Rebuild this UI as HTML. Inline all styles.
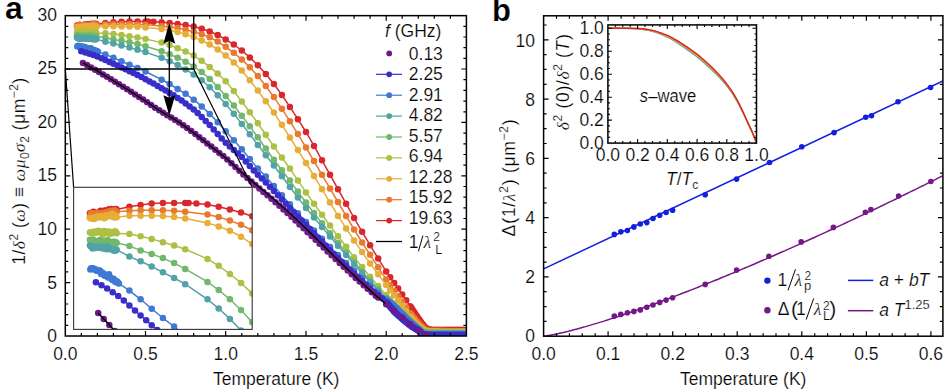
<!DOCTYPE html>
<html><head><meta charset="utf-8"><style>
html,body{margin:0;padding:0;background:#fff}
body{width:946px;height:389px;overflow:hidden}
svg{display:block}
text{font-family:"Liberation Sans",sans-serif;fill:#000;stroke:#fff;stroke-width:0.2px}
</style></head><body>
<svg width="946" height="389" viewBox="0 0 946 389">
<defs>
<clipPath id="ca"><rect x="65.3" y="15.65" width="401.09999999999997" height="320.35"/></clipPath>
<clipPath id="ci"><rect x="73.6" y="187.3" width="178.6" height="142.09999999999997"/></clipPath>
</defs>
<g clip-path="url(#ca)"><path d="M77.0 25.4 L77.7 25.5 L78.3 25.8 L78.9 25.2 L79.6 24.8 L80.2 25.1 L80.9 25.7 L81.5 25.9 L82.1 25.2 L82.8 25.6 L83.4 25.3 L84.1 25.2 L84.7 24.4 L85.4 25.3 L86.0 25.6 L86.6 25.1 L87.3 24.4 L87.9 24.4 L88.6 24.6 L89.2 24.9 L89.8 25.0 L90.5 24.0 L91.1 23.9 L91.8 24.7 L92.4 23.8 L93.1 24.4 L93.7 24.0 L94.3 24.3 L95.0 24.0 L95.6 23.7 L96.3 24.0 L105.4 23.0 L113.4 22.3 L121.5 21.8 L129.5 21.5 L137.5 21.5 L145.5 21.5 L147.9 21.5 L153.5 21.7 L161.6 22.2 L169.6 22.9 L177.6 24.0 L185.6 25.1 L193.7 26.5 L201.7 28.7 L209.7 31.5 L217.7 35.0 L225.7 39.4 L233.8 44.5 L241.8 50.5 L249.8 57.4 L257.8 65.3 L265.8 74.1 L273.9 84.0 L281.9 95.0 L289.9 106.9 L297.9 119.2 L306.0 132.0 L314.0 145.9 L322.0 160.3 L330.0 174.7 L338.0 189.2 L346.1 203.7 L354.1 218.0 L362.1 231.8 L370.1 245.2 L378.2 258.6 L386.2 271.4 L390.2 277.3 L394.2 283.0 L398.2 288.6 L402.2 294.4 L406.2 300.3 L410.2 306.3 L411.0 307.5 L411.9 308.8 L412.7 310.0 L413.5 311.2 L414.3 312.5 L415.1 313.7 L415.9 314.9 L416.7 316.1 L417.5 317.3 L418.3 318.4 L419.1 319.5 L419.9 320.6 L420.7 321.8 L421.5 323.0 L422.3 324.1 L423.1 325.1 L423.9 326.1 L424.7 327.0 L425.5 327.7 L426.3 328.3 L427.1 328.8 L427.9 329.3 L428.7 329.7 L429.5 329.8 L430.3 329.8 L431.1 329.8 L431.9 329.9 L432.7 329.9 L433.5 329.9 L434.3 329.9 L435.1 329.9 L435.9 329.9 L436.7 329.9 L437.5 330.0 L438.3 330.0 L439.1 330.0 L439.9 330.0 L440.7 330.0 L441.5 330.0 L442.3 330.0 L443.1 330.0 L443.9 330.0 L444.7 330.0 L445.5 330.1 L446.3 330.1 L447.1 330.1 L447.9 330.1 L448.8 330.1 L449.6 330.1 L450.4 330.1 L451.2 330.1 L452.0 330.1 L452.8 330.1 L453.6 330.1 L454.4 330.1 L455.2 330.1 L456.0 330.1 L456.8 330.1 L457.6 330.1 L458.4 330.1 L459.2 330.1 L460.0 330.1 L460.8 330.1 L461.6 330.1 L462.4 330.1 L463.2 330.1 L464.0 330.1 L464.8 330.1 L465.6 330.1 L466.4 330.1" fill="none" stroke="#d8282b" stroke-width="1.5"/><g fill="#d8282b"><circle cx="77.0" cy="25.4" r="3.25"/><circle cx="77.7" cy="25.5" r="3.25"/><circle cx="78.3" cy="25.8" r="3.25"/><circle cx="78.9" cy="25.2" r="3.25"/><circle cx="79.6" cy="24.8" r="3.25"/><circle cx="80.2" cy="25.1" r="3.25"/><circle cx="80.9" cy="25.7" r="3.25"/><circle cx="81.5" cy="25.9" r="3.25"/><circle cx="82.1" cy="25.2" r="3.25"/><circle cx="82.8" cy="25.6" r="3.25"/><circle cx="83.4" cy="25.3" r="3.25"/><circle cx="84.1" cy="25.2" r="3.25"/><circle cx="84.7" cy="24.4" r="3.25"/><circle cx="85.4" cy="25.3" r="3.25"/><circle cx="86.0" cy="25.6" r="3.25"/><circle cx="86.6" cy="25.1" r="3.25"/><circle cx="87.3" cy="24.4" r="3.25"/><circle cx="87.9" cy="24.4" r="3.25"/><circle cx="88.6" cy="24.6" r="3.25"/><circle cx="89.2" cy="24.9" r="3.25"/><circle cx="89.8" cy="25.0" r="3.25"/><circle cx="90.5" cy="24.0" r="3.25"/><circle cx="91.1" cy="23.9" r="3.25"/><circle cx="91.8" cy="24.7" r="3.25"/><circle cx="92.4" cy="23.8" r="3.25"/><circle cx="93.1" cy="24.4" r="3.25"/><circle cx="93.7" cy="24.0" r="3.25"/><circle cx="94.3" cy="24.3" r="3.25"/><circle cx="95.0" cy="24.0" r="3.25"/><circle cx="95.6" cy="23.7" r="3.25"/><circle cx="96.3" cy="24.0" r="3.25"/><circle cx="105.4" cy="23.0" r="3.25"/><circle cx="113.4" cy="22.3" r="3.25"/><circle cx="121.5" cy="21.8" r="3.25"/><circle cx="129.5" cy="21.5" r="3.25"/><circle cx="137.5" cy="21.5" r="3.25"/><circle cx="145.5" cy="21.5" r="3.25"/><circle cx="147.9" cy="21.5" r="3.25"/><circle cx="153.5" cy="21.7" r="3.25"/><circle cx="161.6" cy="22.2" r="3.25"/><circle cx="169.6" cy="22.9" r="3.25"/><circle cx="177.6" cy="24.0" r="3.25"/><circle cx="185.6" cy="25.1" r="3.25"/><circle cx="193.7" cy="26.5" r="3.25"/><circle cx="201.7" cy="28.7" r="3.25"/><circle cx="209.7" cy="31.5" r="3.25"/><circle cx="217.7" cy="35.0" r="3.25"/><circle cx="225.7" cy="39.4" r="3.25"/><circle cx="233.8" cy="44.5" r="3.25"/><circle cx="241.8" cy="50.5" r="3.25"/><circle cx="249.8" cy="57.4" r="3.25"/><circle cx="257.8" cy="65.3" r="3.25"/><circle cx="265.8" cy="74.1" r="3.25"/><circle cx="273.9" cy="84.0" r="3.25"/><circle cx="281.9" cy="95.0" r="3.25"/><circle cx="289.9" cy="106.9" r="3.25"/><circle cx="297.9" cy="119.2" r="3.25"/><circle cx="306.0" cy="132.0" r="3.25"/><circle cx="314.0" cy="145.9" r="3.25"/><circle cx="322.0" cy="160.3" r="3.25"/><circle cx="330.0" cy="174.7" r="3.25"/><circle cx="338.0" cy="189.2" r="3.25"/><circle cx="346.1" cy="203.7" r="3.25"/><circle cx="354.1" cy="218.0" r="3.25"/><circle cx="362.1" cy="231.8" r="3.25"/><circle cx="370.1" cy="245.2" r="3.25"/><circle cx="378.2" cy="258.6" r="3.25"/><circle cx="386.2" cy="271.4" r="3.25"/><circle cx="390.2" cy="277.3" r="3.25"/><circle cx="394.2" cy="283.0" r="3.25"/><circle cx="398.2" cy="288.6" r="3.25"/><circle cx="402.2" cy="294.4" r="3.25"/><circle cx="406.2" cy="300.3" r="3.25"/><circle cx="410.2" cy="306.3" r="3.25"/><circle cx="411.0" cy="307.5" r="3.25"/><circle cx="411.9" cy="308.8" r="3.25"/><circle cx="412.7" cy="310.0" r="3.25"/><circle cx="413.5" cy="311.2" r="3.25"/><circle cx="414.3" cy="312.5" r="3.25"/><circle cx="415.1" cy="313.7" r="3.25"/><circle cx="415.9" cy="314.9" r="3.25"/><circle cx="416.7" cy="316.1" r="3.25"/><circle cx="417.5" cy="317.3" r="3.25"/><circle cx="418.3" cy="318.4" r="3.25"/><circle cx="419.1" cy="319.5" r="3.25"/><circle cx="419.9" cy="320.6" r="3.25"/><circle cx="420.7" cy="321.8" r="3.25"/><circle cx="421.5" cy="323.0" r="3.25"/><circle cx="422.3" cy="324.1" r="3.25"/><circle cx="423.1" cy="325.1" r="3.25"/><circle cx="423.9" cy="326.1" r="3.25"/><circle cx="424.7" cy="327.0" r="3.25"/><circle cx="425.5" cy="327.7" r="3.25"/><circle cx="426.3" cy="328.3" r="3.25"/><circle cx="427.1" cy="328.8" r="3.25"/><circle cx="427.9" cy="329.3" r="3.25"/><circle cx="428.7" cy="329.7" r="3.25"/><circle cx="429.5" cy="329.8" r="3.25"/><circle cx="430.3" cy="329.8" r="3.25"/><circle cx="431.1" cy="329.8" r="3.25"/><circle cx="431.9" cy="329.9" r="3.25"/><circle cx="432.7" cy="329.9" r="3.25"/><circle cx="433.5" cy="329.9" r="3.25"/><circle cx="434.3" cy="329.9" r="3.25"/><circle cx="435.1" cy="329.9" r="3.25"/><circle cx="435.9" cy="329.9" r="3.25"/><circle cx="436.7" cy="329.9" r="3.25"/><circle cx="437.5" cy="330.0" r="3.25"/><circle cx="438.3" cy="330.0" r="3.25"/><circle cx="439.1" cy="330.0" r="3.25"/><circle cx="439.9" cy="330.0" r="3.25"/><circle cx="440.7" cy="330.0" r="3.25"/><circle cx="441.5" cy="330.0" r="3.25"/><circle cx="442.3" cy="330.0" r="3.25"/><circle cx="443.1" cy="330.0" r="3.25"/><circle cx="443.9" cy="330.0" r="3.25"/><circle cx="444.7" cy="330.0" r="3.25"/><circle cx="445.5" cy="330.1" r="3.25"/><circle cx="446.3" cy="330.1" r="3.25"/><circle cx="447.1" cy="330.1" r="3.25"/><circle cx="447.9" cy="330.1" r="3.25"/><circle cx="448.8" cy="330.1" r="3.25"/><circle cx="449.6" cy="330.1" r="3.25"/><circle cx="450.4" cy="330.1" r="3.25"/><circle cx="451.2" cy="330.1" r="3.25"/><circle cx="452.0" cy="330.1" r="3.25"/><circle cx="452.8" cy="330.1" r="3.25"/><circle cx="453.6" cy="330.1" r="3.25"/><circle cx="454.4" cy="330.1" r="3.25"/><circle cx="455.2" cy="330.1" r="3.25"/><circle cx="456.0" cy="330.1" r="3.25"/><circle cx="456.8" cy="330.1" r="3.25"/><circle cx="457.6" cy="330.1" r="3.25"/><circle cx="458.4" cy="330.1" r="3.25"/><circle cx="459.2" cy="330.1" r="3.25"/><circle cx="460.0" cy="330.1" r="3.25"/><circle cx="460.8" cy="330.1" r="3.25"/><circle cx="461.6" cy="330.1" r="3.25"/><circle cx="462.4" cy="330.1" r="3.25"/><circle cx="463.2" cy="330.1" r="3.25"/><circle cx="464.0" cy="330.1" r="3.25"/><circle cx="464.8" cy="330.1" r="3.25"/><circle cx="465.6" cy="330.1" r="3.25"/><circle cx="466.4" cy="330.1" r="3.25"/></g><path d="M77.0 26.9 L77.7 25.6 L78.3 25.7 L78.9 25.4 L79.6 26.2 L80.2 25.9 L80.9 25.7 L81.5 25.4 L82.1 25.8 L82.8 25.6 L83.4 25.5 L84.1 25.8 L84.7 25.5 L85.4 25.9 L86.0 25.4 L86.6 25.8 L87.3 25.8 L87.9 25.1 L88.6 25.3 L89.2 25.4 L89.8 24.9 L90.5 24.9 L91.1 24.6 L91.8 25.0 L92.4 24.9 L93.1 25.2 L93.7 24.3 L94.3 25.1 L95.0 24.4 L95.6 25.1 L96.3 24.8 L105.4 24.4 L113.4 24.3 L121.5 24.3 L129.5 24.3 L137.5 24.5 L145.5 24.8 L161.6 25.9 L169.6 26.9 L177.6 28.1 L185.6 29.8 L193.7 31.8 L201.7 34.2 L209.7 37.3 L217.7 41.6 L225.7 46.8 L233.8 52.8 L241.8 59.6 L249.8 67.3 L257.8 76.0 L265.8 86.0 L273.9 97.1 L281.9 108.8 L289.9 121.2 L297.9 134.1 L306.0 147.5 L314.0 161.1 L322.0 174.8 L330.0 188.4 L338.0 202.0 L346.1 215.9 L354.1 229.5 L362.1 242.4 L370.1 254.8 L378.2 267.3 L386.2 279.4 L390.2 285.2 L394.2 290.8 L398.2 296.3 L402.2 301.8 L406.2 307.5 L410.2 313.2 L411.0 314.3 L411.9 315.4 L412.7 316.5 L413.5 317.5 L414.3 318.6 L415.1 319.6 L415.9 320.5 L416.7 321.5 L417.5 322.3 L418.3 323.2 L419.1 324.0 L419.9 324.9 L420.7 325.7 L421.5 326.5 L422.3 327.3 L423.1 328.0 L423.9 328.7 L424.7 329.3 L425.5 329.8 L426.3 330.1 L427.1 330.4 L427.9 330.7 L428.7 330.9 L429.5 331.0 L430.3 331.0 L431.1 331.0 L431.9 331.0 L432.7 331.0 L433.5 331.0 L434.3 331.0 L435.1 331.1 L435.9 331.1 L436.7 331.1 L437.5 331.1 L438.3 331.1 L439.1 331.1 L439.9 331.1 L440.7 331.1 L441.5 331.1 L442.3 331.1 L443.1 331.1 L443.9 331.1 L444.7 331.1 L445.5 331.1 L446.3 331.2 L447.1 331.2 L447.9 331.2 L448.8 331.2 L449.6 331.2 L450.4 331.2 L451.2 331.2 L452.0 331.2 L452.8 331.2 L453.6 331.2 L454.4 331.2 L455.2 331.2 L456.0 331.2 L456.8 331.2 L457.6 331.2 L458.4 331.2 L459.2 331.2 L460.0 331.2 L460.8 331.2 L461.6 331.2 L462.4 331.2 L463.2 331.2 L464.0 331.2 L464.8 331.2 L465.6 331.2 L466.4 331.2" fill="none" stroke="#e8792f" stroke-width="1.5"/><g fill="#e8792f"><circle cx="77.0" cy="26.9" r="3.25"/><circle cx="77.7" cy="25.6" r="3.25"/><circle cx="78.3" cy="25.7" r="3.25"/><circle cx="78.9" cy="25.4" r="3.25"/><circle cx="79.6" cy="26.2" r="3.25"/><circle cx="80.2" cy="25.9" r="3.25"/><circle cx="80.9" cy="25.7" r="3.25"/><circle cx="81.5" cy="25.4" r="3.25"/><circle cx="82.1" cy="25.8" r="3.25"/><circle cx="82.8" cy="25.6" r="3.25"/><circle cx="83.4" cy="25.5" r="3.25"/><circle cx="84.1" cy="25.8" r="3.25"/><circle cx="84.7" cy="25.5" r="3.25"/><circle cx="85.4" cy="25.9" r="3.25"/><circle cx="86.0" cy="25.4" r="3.25"/><circle cx="86.6" cy="25.8" r="3.25"/><circle cx="87.3" cy="25.8" r="3.25"/><circle cx="87.9" cy="25.1" r="3.25"/><circle cx="88.6" cy="25.3" r="3.25"/><circle cx="89.2" cy="25.4" r="3.25"/><circle cx="89.8" cy="24.9" r="3.25"/><circle cx="90.5" cy="24.9" r="3.25"/><circle cx="91.1" cy="24.6" r="3.25"/><circle cx="91.8" cy="25.0" r="3.25"/><circle cx="92.4" cy="24.9" r="3.25"/><circle cx="93.1" cy="25.2" r="3.25"/><circle cx="93.7" cy="24.3" r="3.25"/><circle cx="94.3" cy="25.1" r="3.25"/><circle cx="95.0" cy="24.4" r="3.25"/><circle cx="95.6" cy="25.1" r="3.25"/><circle cx="96.3" cy="24.8" r="3.25"/><circle cx="105.4" cy="24.4" r="3.25"/><circle cx="113.4" cy="24.3" r="3.25"/><circle cx="121.5" cy="24.3" r="3.25"/><circle cx="129.5" cy="24.3" r="3.25"/><circle cx="137.5" cy="24.5" r="3.25"/><circle cx="145.5" cy="24.8" r="3.25"/><circle cx="161.6" cy="25.9" r="3.25"/><circle cx="169.6" cy="26.9" r="3.25"/><circle cx="177.6" cy="28.1" r="3.25"/><circle cx="185.6" cy="29.8" r="3.25"/><circle cx="193.7" cy="31.8" r="3.25"/><circle cx="201.7" cy="34.2" r="3.25"/><circle cx="209.7" cy="37.3" r="3.25"/><circle cx="217.7" cy="41.6" r="3.25"/><circle cx="225.7" cy="46.8" r="3.25"/><circle cx="233.8" cy="52.8" r="3.25"/><circle cx="241.8" cy="59.6" r="3.25"/><circle cx="249.8" cy="67.3" r="3.25"/><circle cx="257.8" cy="76.0" r="3.25"/><circle cx="265.8" cy="86.0" r="3.25"/><circle cx="273.9" cy="97.1" r="3.25"/><circle cx="281.9" cy="108.8" r="3.25"/><circle cx="289.9" cy="121.2" r="3.25"/><circle cx="297.9" cy="134.1" r="3.25"/><circle cx="306.0" cy="147.5" r="3.25"/><circle cx="314.0" cy="161.1" r="3.25"/><circle cx="322.0" cy="174.8" r="3.25"/><circle cx="330.0" cy="188.4" r="3.25"/><circle cx="338.0" cy="202.0" r="3.25"/><circle cx="346.1" cy="215.9" r="3.25"/><circle cx="354.1" cy="229.5" r="3.25"/><circle cx="362.1" cy="242.4" r="3.25"/><circle cx="370.1" cy="254.8" r="3.25"/><circle cx="378.2" cy="267.3" r="3.25"/><circle cx="386.2" cy="279.4" r="3.25"/><circle cx="390.2" cy="285.2" r="3.25"/><circle cx="394.2" cy="290.8" r="3.25"/><circle cx="398.2" cy="296.3" r="3.25"/><circle cx="402.2" cy="301.8" r="3.25"/><circle cx="406.2" cy="307.5" r="3.25"/><circle cx="410.2" cy="313.2" r="3.25"/><circle cx="411.0" cy="314.3" r="3.25"/><circle cx="411.9" cy="315.4" r="3.25"/><circle cx="412.7" cy="316.5" r="3.25"/><circle cx="413.5" cy="317.5" r="3.25"/><circle cx="414.3" cy="318.6" r="3.25"/><circle cx="415.1" cy="319.6" r="3.25"/><circle cx="415.9" cy="320.5" r="3.25"/><circle cx="416.7" cy="321.5" r="3.25"/><circle cx="417.5" cy="322.3" r="3.25"/><circle cx="418.3" cy="323.2" r="3.25"/><circle cx="419.1" cy="324.0" r="3.25"/><circle cx="419.9" cy="324.9" r="3.25"/><circle cx="420.7" cy="325.7" r="3.25"/><circle cx="421.5" cy="326.5" r="3.25"/><circle cx="422.3" cy="327.3" r="3.25"/><circle cx="423.1" cy="328.0" r="3.25"/><circle cx="423.9" cy="328.7" r="3.25"/><circle cx="424.7" cy="329.3" r="3.25"/><circle cx="425.5" cy="329.8" r="3.25"/><circle cx="426.3" cy="330.1" r="3.25"/><circle cx="427.1" cy="330.4" r="3.25"/><circle cx="427.9" cy="330.7" r="3.25"/><circle cx="428.7" cy="330.9" r="3.25"/><circle cx="429.5" cy="331.0" r="3.25"/><circle cx="430.3" cy="331.0" r="3.25"/><circle cx="431.1" cy="331.0" r="3.25"/><circle cx="431.9" cy="331.0" r="3.25"/><circle cx="432.7" cy="331.0" r="3.25"/><circle cx="433.5" cy="331.0" r="3.25"/><circle cx="434.3" cy="331.0" r="3.25"/><circle cx="435.1" cy="331.1" r="3.25"/><circle cx="435.9" cy="331.1" r="3.25"/><circle cx="436.7" cy="331.1" r="3.25"/><circle cx="437.5" cy="331.1" r="3.25"/><circle cx="438.3" cy="331.1" r="3.25"/><circle cx="439.1" cy="331.1" r="3.25"/><circle cx="439.9" cy="331.1" r="3.25"/><circle cx="440.7" cy="331.1" r="3.25"/><circle cx="441.5" cy="331.1" r="3.25"/><circle cx="442.3" cy="331.1" r="3.25"/><circle cx="443.1" cy="331.1" r="3.25"/><circle cx="443.9" cy="331.1" r="3.25"/><circle cx="444.7" cy="331.1" r="3.25"/><circle cx="445.5" cy="331.1" r="3.25"/><circle cx="446.3" cy="331.2" r="3.25"/><circle cx="447.1" cy="331.2" r="3.25"/><circle cx="447.9" cy="331.2" r="3.25"/><circle cx="448.8" cy="331.2" r="3.25"/><circle cx="449.6" cy="331.2" r="3.25"/><circle cx="450.4" cy="331.2" r="3.25"/><circle cx="451.2" cy="331.2" r="3.25"/><circle cx="452.0" cy="331.2" r="3.25"/><circle cx="452.8" cy="331.2" r="3.25"/><circle cx="453.6" cy="331.2" r="3.25"/><circle cx="454.4" cy="331.2" r="3.25"/><circle cx="455.2" cy="331.2" r="3.25"/><circle cx="456.0" cy="331.2" r="3.25"/><circle cx="456.8" cy="331.2" r="3.25"/><circle cx="457.6" cy="331.2" r="3.25"/><circle cx="458.4" cy="331.2" r="3.25"/><circle cx="459.2" cy="331.2" r="3.25"/><circle cx="460.0" cy="331.2" r="3.25"/><circle cx="460.8" cy="331.2" r="3.25"/><circle cx="461.6" cy="331.2" r="3.25"/><circle cx="462.4" cy="331.2" r="3.25"/><circle cx="463.2" cy="331.2" r="3.25"/><circle cx="464.0" cy="331.2" r="3.25"/><circle cx="464.8" cy="331.2" r="3.25"/><circle cx="465.6" cy="331.2" r="3.25"/><circle cx="466.4" cy="331.2" r="3.25"/></g><path d="M77.0 27.1 L77.7 27.2 L78.3 27.3 L78.9 27.2 L79.6 27.3 L80.2 27.6 L80.9 26.8 L81.5 27.0 L82.1 26.8 L82.8 26.6 L83.4 26.7 L84.1 27.0 L84.7 26.6 L85.4 26.4 L86.0 26.7 L86.6 26.8 L87.3 27.3 L87.9 27.1 L88.6 26.3 L89.2 26.6 L89.8 26.3 L90.5 26.2 L91.1 26.2 L91.8 26.2 L92.4 26.6 L93.1 25.4 L93.7 26.1 L94.3 26.9 L95.0 26.9 L95.6 26.2 L96.3 26.9 L105.4 26.3 L113.4 26.3 L121.5 26.4 L129.5 26.4 L137.5 26.8 L145.5 27.4 L161.6 29.1 L169.6 30.4 L177.6 32.0 L185.6 34.2 L193.7 37.0 L201.7 40.4 L209.7 44.5 L217.7 49.4 L225.7 55.4 L233.8 62.4 L241.8 70.6 L249.8 80.2 L257.8 90.6 L265.8 101.3 L273.9 112.6 L281.9 124.8 L289.9 137.4 L297.9 150.1 L306.0 163.0 L314.0 176.0 L322.0 189.2 L330.0 202.6 L338.0 215.9 L346.1 228.4 L354.1 240.4 L362.1 252.1 L370.1 263.4 L378.2 274.3 L386.2 285.0 L390.2 290.2 L394.2 295.3 L398.2 300.5 L402.2 305.6 L406.2 311.0 L410.2 316.6 L411.0 317.7 L411.9 318.7 L412.7 319.8 L413.5 320.8 L414.3 321.7 L415.1 322.7 L415.9 323.5 L416.7 324.4 L417.5 325.1 L418.3 325.9 L419.1 326.5 L419.9 327.2 L420.7 327.9 L421.5 328.5 L422.3 329.1 L423.1 329.7 L423.9 330.2 L424.7 330.6 L425.5 330.9 L426.3 331.2 L427.1 331.4 L427.9 331.6 L428.7 331.7 L429.5 331.7 L430.3 331.7 L431.1 331.8 L431.9 331.8 L432.7 331.8 L433.5 331.8 L434.3 331.8 L435.1 331.8 L435.9 331.8 L436.7 331.8 L437.5 331.8 L438.3 331.8 L439.1 331.8 L439.9 331.9 L440.7 331.9 L441.5 331.9 L442.3 331.9 L443.1 331.9 L443.9 331.9 L444.7 331.9 L445.5 331.9 L446.3 331.9 L447.1 331.9 L447.9 331.9 L448.8 331.9 L449.6 331.9 L450.4 331.9 L451.2 331.9 L452.0 331.9 L452.8 331.9 L453.6 331.9 L454.4 331.9 L455.2 331.9 L456.0 331.9 L456.8 331.9 L457.6 331.9 L458.4 331.9 L459.2 331.9 L460.0 331.9 L460.8 331.9 L461.6 331.9 L462.4 331.9 L463.2 331.9 L464.0 331.9 L464.8 331.9 L465.6 331.9 L466.4 331.9" fill="none" stroke="#e6ae38" stroke-width="1.5"/><g fill="#e6ae38"><circle cx="77.0" cy="27.1" r="3.25"/><circle cx="77.7" cy="27.2" r="3.25"/><circle cx="78.3" cy="27.3" r="3.25"/><circle cx="78.9" cy="27.2" r="3.25"/><circle cx="79.6" cy="27.3" r="3.25"/><circle cx="80.2" cy="27.6" r="3.25"/><circle cx="80.9" cy="26.8" r="3.25"/><circle cx="81.5" cy="27.0" r="3.25"/><circle cx="82.1" cy="26.8" r="3.25"/><circle cx="82.8" cy="26.6" r="3.25"/><circle cx="83.4" cy="26.7" r="3.25"/><circle cx="84.1" cy="27.0" r="3.25"/><circle cx="84.7" cy="26.6" r="3.25"/><circle cx="85.4" cy="26.4" r="3.25"/><circle cx="86.0" cy="26.7" r="3.25"/><circle cx="86.6" cy="26.8" r="3.25"/><circle cx="87.3" cy="27.3" r="3.25"/><circle cx="87.9" cy="27.1" r="3.25"/><circle cx="88.6" cy="26.3" r="3.25"/><circle cx="89.2" cy="26.6" r="3.25"/><circle cx="89.8" cy="26.3" r="3.25"/><circle cx="90.5" cy="26.2" r="3.25"/><circle cx="91.1" cy="26.2" r="3.25"/><circle cx="91.8" cy="26.2" r="3.25"/><circle cx="92.4" cy="26.6" r="3.25"/><circle cx="93.1" cy="25.4" r="3.25"/><circle cx="93.7" cy="26.1" r="3.25"/><circle cx="94.3" cy="26.9" r="3.25"/><circle cx="95.0" cy="26.9" r="3.25"/><circle cx="95.6" cy="26.2" r="3.25"/><circle cx="96.3" cy="26.9" r="3.25"/><circle cx="105.4" cy="26.3" r="3.25"/><circle cx="113.4" cy="26.3" r="3.25"/><circle cx="121.5" cy="26.4" r="3.25"/><circle cx="129.5" cy="26.4" r="3.25"/><circle cx="137.5" cy="26.8" r="3.25"/><circle cx="145.5" cy="27.4" r="3.25"/><circle cx="161.6" cy="29.1" r="3.25"/><circle cx="169.6" cy="30.4" r="3.25"/><circle cx="177.6" cy="32.0" r="3.25"/><circle cx="185.6" cy="34.2" r="3.25"/><circle cx="193.7" cy="37.0" r="3.25"/><circle cx="201.7" cy="40.4" r="3.25"/><circle cx="209.7" cy="44.5" r="3.25"/><circle cx="217.7" cy="49.4" r="3.25"/><circle cx="225.7" cy="55.4" r="3.25"/><circle cx="233.8" cy="62.4" r="3.25"/><circle cx="241.8" cy="70.6" r="3.25"/><circle cx="249.8" cy="80.2" r="3.25"/><circle cx="257.8" cy="90.6" r="3.25"/><circle cx="265.8" cy="101.3" r="3.25"/><circle cx="273.9" cy="112.6" r="3.25"/><circle cx="281.9" cy="124.8" r="3.25"/><circle cx="289.9" cy="137.4" r="3.25"/><circle cx="297.9" cy="150.1" r="3.25"/><circle cx="306.0" cy="163.0" r="3.25"/><circle cx="314.0" cy="176.0" r="3.25"/><circle cx="322.0" cy="189.2" r="3.25"/><circle cx="330.0" cy="202.6" r="3.25"/><circle cx="338.0" cy="215.9" r="3.25"/><circle cx="346.1" cy="228.4" r="3.25"/><circle cx="354.1" cy="240.4" r="3.25"/><circle cx="362.1" cy="252.1" r="3.25"/><circle cx="370.1" cy="263.4" r="3.25"/><circle cx="378.2" cy="274.3" r="3.25"/><circle cx="386.2" cy="285.0" r="3.25"/><circle cx="390.2" cy="290.2" r="3.25"/><circle cx="394.2" cy="295.3" r="3.25"/><circle cx="398.2" cy="300.5" r="3.25"/><circle cx="402.2" cy="305.6" r="3.25"/><circle cx="406.2" cy="311.0" r="3.25"/><circle cx="410.2" cy="316.6" r="3.25"/><circle cx="411.0" cy="317.7" r="3.25"/><circle cx="411.9" cy="318.7" r="3.25"/><circle cx="412.7" cy="319.8" r="3.25"/><circle cx="413.5" cy="320.8" r="3.25"/><circle cx="414.3" cy="321.7" r="3.25"/><circle cx="415.1" cy="322.7" r="3.25"/><circle cx="415.9" cy="323.5" r="3.25"/><circle cx="416.7" cy="324.4" r="3.25"/><circle cx="417.5" cy="325.1" r="3.25"/><circle cx="418.3" cy="325.9" r="3.25"/><circle cx="419.1" cy="326.5" r="3.25"/><circle cx="419.9" cy="327.2" r="3.25"/><circle cx="420.7" cy="327.9" r="3.25"/><circle cx="421.5" cy="328.5" r="3.25"/><circle cx="422.3" cy="329.1" r="3.25"/><circle cx="423.1" cy="329.7" r="3.25"/><circle cx="423.9" cy="330.2" r="3.25"/><circle cx="424.7" cy="330.6" r="3.25"/><circle cx="425.5" cy="330.9" r="3.25"/><circle cx="426.3" cy="331.2" r="3.25"/><circle cx="427.1" cy="331.4" r="3.25"/><circle cx="427.9" cy="331.6" r="3.25"/><circle cx="428.7" cy="331.7" r="3.25"/><circle cx="429.5" cy="331.7" r="3.25"/><circle cx="430.3" cy="331.7" r="3.25"/><circle cx="431.1" cy="331.8" r="3.25"/><circle cx="431.9" cy="331.8" r="3.25"/><circle cx="432.7" cy="331.8" r="3.25"/><circle cx="433.5" cy="331.8" r="3.25"/><circle cx="434.3" cy="331.8" r="3.25"/><circle cx="435.1" cy="331.8" r="3.25"/><circle cx="435.9" cy="331.8" r="3.25"/><circle cx="436.7" cy="331.8" r="3.25"/><circle cx="437.5" cy="331.8" r="3.25"/><circle cx="438.3" cy="331.8" r="3.25"/><circle cx="439.1" cy="331.8" r="3.25"/><circle cx="439.9" cy="331.9" r="3.25"/><circle cx="440.7" cy="331.9" r="3.25"/><circle cx="441.5" cy="331.9" r="3.25"/><circle cx="442.3" cy="331.9" r="3.25"/><circle cx="443.1" cy="331.9" r="3.25"/><circle cx="443.9" cy="331.9" r="3.25"/><circle cx="444.7" cy="331.9" r="3.25"/><circle cx="445.5" cy="331.9" r="3.25"/><circle cx="446.3" cy="331.9" r="3.25"/><circle cx="447.1" cy="331.9" r="3.25"/><circle cx="447.9" cy="331.9" r="3.25"/><circle cx="448.8" cy="331.9" r="3.25"/><circle cx="449.6" cy="331.9" r="3.25"/><circle cx="450.4" cy="331.9" r="3.25"/><circle cx="451.2" cy="331.9" r="3.25"/><circle cx="452.0" cy="331.9" r="3.25"/><circle cx="452.8" cy="331.9" r="3.25"/><circle cx="453.6" cy="331.9" r="3.25"/><circle cx="454.4" cy="331.9" r="3.25"/><circle cx="455.2" cy="331.9" r="3.25"/><circle cx="456.0" cy="331.9" r="3.25"/><circle cx="456.8" cy="331.9" r="3.25"/><circle cx="457.6" cy="331.9" r="3.25"/><circle cx="458.4" cy="331.9" r="3.25"/><circle cx="459.2" cy="331.9" r="3.25"/><circle cx="460.0" cy="331.9" r="3.25"/><circle cx="460.8" cy="331.9" r="3.25"/><circle cx="461.6" cy="331.9" r="3.25"/><circle cx="462.4" cy="331.9" r="3.25"/><circle cx="463.2" cy="331.9" r="3.25"/><circle cx="464.0" cy="331.9" r="3.25"/><circle cx="464.8" cy="331.9" r="3.25"/><circle cx="465.6" cy="331.9" r="3.25"/><circle cx="466.4" cy="331.9" r="3.25"/></g><path d="M77.0 32.6 L77.7 32.5 L78.3 32.7 L78.9 33.0 L79.6 32.4 L80.2 32.6 L80.9 32.5 L81.5 32.7 L82.1 32.1 L82.8 32.2 L83.4 32.0 L84.1 32.3 L84.7 32.5 L85.4 32.7 L86.0 33.5 L86.6 32.3 L87.3 32.1 L87.9 32.6 L88.6 32.8 L89.2 32.3 L89.8 32.9 L90.5 32.3 L91.1 33.1 L91.8 32.5 L92.4 32.8 L93.1 32.6 L93.7 32.9 L94.3 32.6 L95.0 32.2 L95.6 32.4 L96.3 32.9 L105.4 33.2 L113.4 34.0 L121.5 35.0 L129.5 36.3 L137.5 37.5 L145.5 38.9 L161.6 42.6 L169.6 45.1 L177.6 48.2 L185.6 51.6 L193.7 55.6 L201.7 60.8 L209.7 66.9 L217.7 73.6 L225.7 81.3 L233.8 91.0 L241.8 101.6 L249.8 112.2 L257.8 123.2 L265.8 134.8 L273.9 146.6 L281.9 157.5 L289.9 168.6 L297.9 180.4 L306.0 192.4 L314.0 203.7 L322.0 214.8 L330.0 225.6 L338.0 236.2 L346.1 246.8 L354.1 257.2 L362.1 267.1 L370.1 276.7 L378.2 286.0 L386.2 294.9 L390.2 299.3 L394.2 303.6 L398.2 307.8 L402.2 312.0 L403.0 312.8 L403.8 313.6 L404.6 314.5 L405.4 315.3 L406.2 316.1 L407.0 317.0 L407.8 317.8 L408.6 318.7 L409.4 319.5 L410.2 320.3 L411.0 321.1 L411.9 321.9 L412.7 322.7 L413.5 323.5 L414.3 324.2 L415.1 324.9 L415.9 325.6 L416.7 326.2 L417.5 326.9 L418.3 327.5 L419.1 328.0 L419.9 328.6 L420.7 329.2 L421.5 329.8 L422.3 330.4 L423.1 330.9 L423.9 331.3 L424.7 331.7 L425.5 332.0 L426.3 332.2 L427.1 332.3 L427.9 332.4 L428.7 332.4 L429.5 332.5 L430.3 332.5 L431.1 332.5 L431.9 332.5 L432.7 332.5 L433.5 332.5 L434.3 332.5 L435.1 332.5 L435.9 332.5 L436.7 332.5 L437.5 332.5 L438.3 332.5 L439.1 332.5 L439.9 332.5 L440.7 332.5 L441.5 332.5 L442.3 332.5 L443.1 332.6 L443.9 332.6 L444.7 332.6 L445.5 332.6 L446.3 332.6 L447.1 332.6 L447.9 332.6 L448.8 332.6 L449.6 332.6 L450.4 332.6 L451.2 332.6 L452.0 332.6 L452.8 332.6 L453.6 332.6 L454.4 332.6 L455.2 332.6 L456.0 332.6 L456.8 332.6 L457.6 332.6 L458.4 332.6 L459.2 332.6 L460.0 332.6 L460.8 332.6 L461.6 332.6 L462.4 332.6 L463.2 332.6 L464.0 332.6 L464.8 332.6 L465.6 332.6 L466.4 332.6" fill="none" stroke="#adc045" stroke-width="1.5"/><g fill="#adc045"><circle cx="77.0" cy="32.6" r="3.25"/><circle cx="77.7" cy="32.5" r="3.25"/><circle cx="78.3" cy="32.7" r="3.25"/><circle cx="78.9" cy="33.0" r="3.25"/><circle cx="79.6" cy="32.4" r="3.25"/><circle cx="80.2" cy="32.6" r="3.25"/><circle cx="80.9" cy="32.5" r="3.25"/><circle cx="81.5" cy="32.7" r="3.25"/><circle cx="82.1" cy="32.1" r="3.25"/><circle cx="82.8" cy="32.2" r="3.25"/><circle cx="83.4" cy="32.0" r="3.25"/><circle cx="84.1" cy="32.3" r="3.25"/><circle cx="84.7" cy="32.5" r="3.25"/><circle cx="85.4" cy="32.7" r="3.25"/><circle cx="86.0" cy="33.5" r="3.25"/><circle cx="86.6" cy="32.3" r="3.25"/><circle cx="87.3" cy="32.1" r="3.25"/><circle cx="87.9" cy="32.6" r="3.25"/><circle cx="88.6" cy="32.8" r="3.25"/><circle cx="89.2" cy="32.3" r="3.25"/><circle cx="89.8" cy="32.9" r="3.25"/><circle cx="90.5" cy="32.3" r="3.25"/><circle cx="91.1" cy="33.1" r="3.25"/><circle cx="91.8" cy="32.5" r="3.25"/><circle cx="92.4" cy="32.8" r="3.25"/><circle cx="93.1" cy="32.6" r="3.25"/><circle cx="93.7" cy="32.9" r="3.25"/><circle cx="94.3" cy="32.6" r="3.25"/><circle cx="95.0" cy="32.2" r="3.25"/><circle cx="95.6" cy="32.4" r="3.25"/><circle cx="96.3" cy="32.9" r="3.25"/><circle cx="105.4" cy="33.2" r="3.25"/><circle cx="113.4" cy="34.0" r="3.25"/><circle cx="121.5" cy="35.0" r="3.25"/><circle cx="129.5" cy="36.3" r="3.25"/><circle cx="137.5" cy="37.5" r="3.25"/><circle cx="145.5" cy="38.9" r="3.25"/><circle cx="161.6" cy="42.6" r="3.25"/><circle cx="169.6" cy="45.1" r="3.25"/><circle cx="177.6" cy="48.2" r="3.25"/><circle cx="185.6" cy="51.6" r="3.25"/><circle cx="193.7" cy="55.6" r="3.25"/><circle cx="201.7" cy="60.8" r="3.25"/><circle cx="209.7" cy="66.9" r="3.25"/><circle cx="217.7" cy="73.6" r="3.25"/><circle cx="225.7" cy="81.3" r="3.25"/><circle cx="233.8" cy="91.0" r="3.25"/><circle cx="241.8" cy="101.6" r="3.25"/><circle cx="249.8" cy="112.2" r="3.25"/><circle cx="257.8" cy="123.2" r="3.25"/><circle cx="265.8" cy="134.8" r="3.25"/><circle cx="273.9" cy="146.6" r="3.25"/><circle cx="281.9" cy="157.5" r="3.25"/><circle cx="289.9" cy="168.6" r="3.25"/><circle cx="297.9" cy="180.4" r="3.25"/><circle cx="306.0" cy="192.4" r="3.25"/><circle cx="314.0" cy="203.7" r="3.25"/><circle cx="322.0" cy="214.8" r="3.25"/><circle cx="330.0" cy="225.6" r="3.25"/><circle cx="338.0" cy="236.2" r="3.25"/><circle cx="346.1" cy="246.8" r="3.25"/><circle cx="354.1" cy="257.2" r="3.25"/><circle cx="362.1" cy="267.1" r="3.25"/><circle cx="370.1" cy="276.7" r="3.25"/><circle cx="378.2" cy="286.0" r="3.25"/><circle cx="386.2" cy="294.9" r="3.25"/><circle cx="390.2" cy="299.3" r="3.25"/><circle cx="394.2" cy="303.6" r="3.25"/><circle cx="398.2" cy="307.8" r="3.25"/><circle cx="402.2" cy="312.0" r="3.25"/><circle cx="403.0" cy="312.8" r="3.25"/><circle cx="403.8" cy="313.6" r="3.25"/><circle cx="404.6" cy="314.5" r="3.25"/><circle cx="405.4" cy="315.3" r="3.25"/><circle cx="406.2" cy="316.1" r="3.25"/><circle cx="407.0" cy="317.0" r="3.25"/><circle cx="407.8" cy="317.8" r="3.25"/><circle cx="408.6" cy="318.7" r="3.25"/><circle cx="409.4" cy="319.5" r="3.25"/><circle cx="410.2" cy="320.3" r="3.25"/><circle cx="411.0" cy="321.1" r="3.25"/><circle cx="411.9" cy="321.9" r="3.25"/><circle cx="412.7" cy="322.7" r="3.25"/><circle cx="413.5" cy="323.5" r="3.25"/><circle cx="414.3" cy="324.2" r="3.25"/><circle cx="415.1" cy="324.9" r="3.25"/><circle cx="415.9" cy="325.6" r="3.25"/><circle cx="416.7" cy="326.2" r="3.25"/><circle cx="417.5" cy="326.9" r="3.25"/><circle cx="418.3" cy="327.5" r="3.25"/><circle cx="419.1" cy="328.0" r="3.25"/><circle cx="419.9" cy="328.6" r="3.25"/><circle cx="420.7" cy="329.2" r="3.25"/><circle cx="421.5" cy="329.8" r="3.25"/><circle cx="422.3" cy="330.4" r="3.25"/><circle cx="423.1" cy="330.9" r="3.25"/><circle cx="423.9" cy="331.3" r="3.25"/><circle cx="424.7" cy="331.7" r="3.25"/><circle cx="425.5" cy="332.0" r="3.25"/><circle cx="426.3" cy="332.2" r="3.25"/><circle cx="427.1" cy="332.3" r="3.25"/><circle cx="427.9" cy="332.4" r="3.25"/><circle cx="428.7" cy="332.4" r="3.25"/><circle cx="429.5" cy="332.5" r="3.25"/><circle cx="430.3" cy="332.5" r="3.25"/><circle cx="431.1" cy="332.5" r="3.25"/><circle cx="431.9" cy="332.5" r="3.25"/><circle cx="432.7" cy="332.5" r="3.25"/><circle cx="433.5" cy="332.5" r="3.25"/><circle cx="434.3" cy="332.5" r="3.25"/><circle cx="435.1" cy="332.5" r="3.25"/><circle cx="435.9" cy="332.5" r="3.25"/><circle cx="436.7" cy="332.5" r="3.25"/><circle cx="437.5" cy="332.5" r="3.25"/><circle cx="438.3" cy="332.5" r="3.25"/><circle cx="439.1" cy="332.5" r="3.25"/><circle cx="439.9" cy="332.5" r="3.25"/><circle cx="440.7" cy="332.5" r="3.25"/><circle cx="441.5" cy="332.5" r="3.25"/><circle cx="442.3" cy="332.5" r="3.25"/><circle cx="443.1" cy="332.6" r="3.25"/><circle cx="443.9" cy="332.6" r="3.25"/><circle cx="444.7" cy="332.6" r="3.25"/><circle cx="445.5" cy="332.6" r="3.25"/><circle cx="446.3" cy="332.6" r="3.25"/><circle cx="447.1" cy="332.6" r="3.25"/><circle cx="447.9" cy="332.6" r="3.25"/><circle cx="448.8" cy="332.6" r="3.25"/><circle cx="449.6" cy="332.6" r="3.25"/><circle cx="450.4" cy="332.6" r="3.25"/><circle cx="451.2" cy="332.6" r="3.25"/><circle cx="452.0" cy="332.6" r="3.25"/><circle cx="452.8" cy="332.6" r="3.25"/><circle cx="453.6" cy="332.6" r="3.25"/><circle cx="454.4" cy="332.6" r="3.25"/><circle cx="455.2" cy="332.6" r="3.25"/><circle cx="456.0" cy="332.6" r="3.25"/><circle cx="456.8" cy="332.6" r="3.25"/><circle cx="457.6" cy="332.6" r="3.25"/><circle cx="458.4" cy="332.6" r="3.25"/><circle cx="459.2" cy="332.6" r="3.25"/><circle cx="460.0" cy="332.6" r="3.25"/><circle cx="460.8" cy="332.6" r="3.25"/><circle cx="461.6" cy="332.6" r="3.25"/><circle cx="462.4" cy="332.6" r="3.25"/><circle cx="463.2" cy="332.6" r="3.25"/><circle cx="464.0" cy="332.6" r="3.25"/><circle cx="464.8" cy="332.6" r="3.25"/><circle cx="465.6" cy="332.6" r="3.25"/><circle cx="466.4" cy="332.6" r="3.25"/></g><path d="M77.0 35.4 L77.7 35.6 L78.3 36.3 L78.9 36.0 L79.6 35.4 L80.2 35.9 L80.9 35.9 L81.5 36.0 L82.1 36.4 L82.8 36.2 L83.4 36.2 L84.1 35.4 L84.7 35.8 L85.4 36.2 L86.0 36.0 L86.6 36.1 L87.3 36.1 L87.9 35.9 L88.6 36.4 L89.2 35.7 L89.8 35.6 L90.5 36.1 L91.1 36.2 L91.8 36.4 L92.4 36.4 L93.1 36.6 L93.7 36.1 L94.3 36.7 L95.0 36.1 L95.6 36.3 L96.3 36.5 L105.4 37.7 L113.4 39.4 L121.5 40.7 L129.5 42.2 L137.5 44.1 L145.5 46.3 L161.6 51.2 L169.6 54.2 L177.6 57.7 L185.6 61.7 L193.7 66.4 L201.7 72.1 L209.7 78.9 L217.7 86.9 L225.7 96.0 L233.8 105.5 L241.8 115.7 L249.8 126.3 L257.8 137.2 L265.8 148.5 L273.9 159.8 L281.9 170.3 L289.9 180.6 L297.9 191.6 L306.0 202.5 L314.0 213.1 L322.0 223.3 L330.0 233.2 L338.0 242.9 L346.1 252.6 L354.1 262.1 L362.1 271.3 L370.1 280.3 L378.2 289.0 L386.2 297.6 L390.2 301.7 L394.2 305.7 L398.2 309.7 L402.2 313.6 L403.0 314.4 L403.8 315.2 L404.6 316.0 L405.4 316.8 L406.2 317.6 L407.0 318.4 L407.8 319.2 L408.6 320.1 L409.4 320.9 L410.2 321.7 L411.0 322.5 L411.9 323.2 L412.7 324.0 L413.5 324.7 L414.3 325.4 L415.1 326.1 L415.9 326.8 L416.7 327.4 L417.5 328.0 L418.3 328.5 L419.1 329.1 L419.9 329.6 L420.7 330.2 L421.5 330.7 L422.3 331.2 L423.1 331.7 L423.9 332.1 L424.7 332.4 L425.5 332.7 L426.3 332.8 L427.1 332.9 L427.9 332.9 L428.7 333.0 L429.5 333.0 L430.3 333.0 L431.1 333.0 L431.9 333.0 L432.7 333.0 L433.5 333.0 L434.3 333.0 L435.1 333.0 L435.9 333.1 L436.7 333.1 L437.5 333.1 L438.3 333.1 L439.1 333.1 L439.9 333.1 L440.7 333.1 L441.5 333.1 L442.3 333.1 L443.1 333.1 L443.9 333.1 L444.7 333.1 L445.5 333.1 L446.3 333.1 L447.1 333.1 L447.9 333.1 L448.8 333.1 L449.6 333.1 L450.4 333.1 L451.2 333.1 L452.0 333.1 L452.8 333.1 L453.6 333.1 L454.4 333.1 L455.2 333.1 L456.0 333.1 L456.8 333.1 L457.6 333.1 L458.4 333.1 L459.2 333.1 L460.0 333.1 L460.8 333.1 L461.6 333.1 L462.4 333.1 L463.2 333.1 L464.0 333.1 L464.8 333.1 L465.6 333.1 L466.4 333.1" fill="none" stroke="#72b86c" stroke-width="1.5"/><g fill="#72b86c"><circle cx="77.0" cy="35.4" r="3.25"/><circle cx="77.7" cy="35.6" r="3.25"/><circle cx="78.3" cy="36.3" r="3.25"/><circle cx="78.9" cy="36.0" r="3.25"/><circle cx="79.6" cy="35.4" r="3.25"/><circle cx="80.2" cy="35.9" r="3.25"/><circle cx="80.9" cy="35.9" r="3.25"/><circle cx="81.5" cy="36.0" r="3.25"/><circle cx="82.1" cy="36.4" r="3.25"/><circle cx="82.8" cy="36.2" r="3.25"/><circle cx="83.4" cy="36.2" r="3.25"/><circle cx="84.1" cy="35.4" r="3.25"/><circle cx="84.7" cy="35.8" r="3.25"/><circle cx="85.4" cy="36.2" r="3.25"/><circle cx="86.0" cy="36.0" r="3.25"/><circle cx="86.6" cy="36.1" r="3.25"/><circle cx="87.3" cy="36.1" r="3.25"/><circle cx="87.9" cy="35.9" r="3.25"/><circle cx="88.6" cy="36.4" r="3.25"/><circle cx="89.2" cy="35.7" r="3.25"/><circle cx="89.8" cy="35.6" r="3.25"/><circle cx="90.5" cy="36.1" r="3.25"/><circle cx="91.1" cy="36.2" r="3.25"/><circle cx="91.8" cy="36.4" r="3.25"/><circle cx="92.4" cy="36.4" r="3.25"/><circle cx="93.1" cy="36.6" r="3.25"/><circle cx="93.7" cy="36.1" r="3.25"/><circle cx="94.3" cy="36.7" r="3.25"/><circle cx="95.0" cy="36.1" r="3.25"/><circle cx="95.6" cy="36.3" r="3.25"/><circle cx="96.3" cy="36.5" r="3.25"/><circle cx="105.4" cy="37.7" r="3.25"/><circle cx="113.4" cy="39.4" r="3.25"/><circle cx="121.5" cy="40.7" r="3.25"/><circle cx="129.5" cy="42.2" r="3.25"/><circle cx="137.5" cy="44.1" r="3.25"/><circle cx="145.5" cy="46.3" r="3.25"/><circle cx="161.6" cy="51.2" r="3.25"/><circle cx="169.6" cy="54.2" r="3.25"/><circle cx="177.6" cy="57.7" r="3.25"/><circle cx="185.6" cy="61.7" r="3.25"/><circle cx="193.7" cy="66.4" r="3.25"/><circle cx="201.7" cy="72.1" r="3.25"/><circle cx="209.7" cy="78.9" r="3.25"/><circle cx="217.7" cy="86.9" r="3.25"/><circle cx="225.7" cy="96.0" r="3.25"/><circle cx="233.8" cy="105.5" r="3.25"/><circle cx="241.8" cy="115.7" r="3.25"/><circle cx="249.8" cy="126.3" r="3.25"/><circle cx="257.8" cy="137.2" r="3.25"/><circle cx="265.8" cy="148.5" r="3.25"/><circle cx="273.9" cy="159.8" r="3.25"/><circle cx="281.9" cy="170.3" r="3.25"/><circle cx="289.9" cy="180.6" r="3.25"/><circle cx="297.9" cy="191.6" r="3.25"/><circle cx="306.0" cy="202.5" r="3.25"/><circle cx="314.0" cy="213.1" r="3.25"/><circle cx="322.0" cy="223.3" r="3.25"/><circle cx="330.0" cy="233.2" r="3.25"/><circle cx="338.0" cy="242.9" r="3.25"/><circle cx="346.1" cy="252.6" r="3.25"/><circle cx="354.1" cy="262.1" r="3.25"/><circle cx="362.1" cy="271.3" r="3.25"/><circle cx="370.1" cy="280.3" r="3.25"/><circle cx="378.2" cy="289.0" r="3.25"/><circle cx="386.2" cy="297.6" r="3.25"/><circle cx="390.2" cy="301.7" r="3.25"/><circle cx="394.2" cy="305.7" r="3.25"/><circle cx="398.2" cy="309.7" r="3.25"/><circle cx="402.2" cy="313.6" r="3.25"/><circle cx="403.0" cy="314.4" r="3.25"/><circle cx="403.8" cy="315.2" r="3.25"/><circle cx="404.6" cy="316.0" r="3.25"/><circle cx="405.4" cy="316.8" r="3.25"/><circle cx="406.2" cy="317.6" r="3.25"/><circle cx="407.0" cy="318.4" r="3.25"/><circle cx="407.8" cy="319.2" r="3.25"/><circle cx="408.6" cy="320.1" r="3.25"/><circle cx="409.4" cy="320.9" r="3.25"/><circle cx="410.2" cy="321.7" r="3.25"/><circle cx="411.0" cy="322.5" r="3.25"/><circle cx="411.9" cy="323.2" r="3.25"/><circle cx="412.7" cy="324.0" r="3.25"/><circle cx="413.5" cy="324.7" r="3.25"/><circle cx="414.3" cy="325.4" r="3.25"/><circle cx="415.1" cy="326.1" r="3.25"/><circle cx="415.9" cy="326.8" r="3.25"/><circle cx="416.7" cy="327.4" r="3.25"/><circle cx="417.5" cy="328.0" r="3.25"/><circle cx="418.3" cy="328.5" r="3.25"/><circle cx="419.1" cy="329.1" r="3.25"/><circle cx="419.9" cy="329.6" r="3.25"/><circle cx="420.7" cy="330.2" r="3.25"/><circle cx="421.5" cy="330.7" r="3.25"/><circle cx="422.3" cy="331.2" r="3.25"/><circle cx="423.1" cy="331.7" r="3.25"/><circle cx="423.9" cy="332.1" r="3.25"/><circle cx="424.7" cy="332.4" r="3.25"/><circle cx="425.5" cy="332.7" r="3.25"/><circle cx="426.3" cy="332.8" r="3.25"/><circle cx="427.1" cy="332.9" r="3.25"/><circle cx="427.9" cy="332.9" r="3.25"/><circle cx="428.7" cy="333.0" r="3.25"/><circle cx="429.5" cy="333.0" r="3.25"/><circle cx="430.3" cy="333.0" r="3.25"/><circle cx="431.1" cy="333.0" r="3.25"/><circle cx="431.9" cy="333.0" r="3.25"/><circle cx="432.7" cy="333.0" r="3.25"/><circle cx="433.5" cy="333.0" r="3.25"/><circle cx="434.3" cy="333.0" r="3.25"/><circle cx="435.1" cy="333.0" r="3.25"/><circle cx="435.9" cy="333.1" r="3.25"/><circle cx="436.7" cy="333.1" r="3.25"/><circle cx="437.5" cy="333.1" r="3.25"/><circle cx="438.3" cy="333.1" r="3.25"/><circle cx="439.1" cy="333.1" r="3.25"/><circle cx="439.9" cy="333.1" r="3.25"/><circle cx="440.7" cy="333.1" r="3.25"/><circle cx="441.5" cy="333.1" r="3.25"/><circle cx="442.3" cy="333.1" r="3.25"/><circle cx="443.1" cy="333.1" r="3.25"/><circle cx="443.9" cy="333.1" r="3.25"/><circle cx="444.7" cy="333.1" r="3.25"/><circle cx="445.5" cy="333.1" r="3.25"/><circle cx="446.3" cy="333.1" r="3.25"/><circle cx="447.1" cy="333.1" r="3.25"/><circle cx="447.9" cy="333.1" r="3.25"/><circle cx="448.8" cy="333.1" r="3.25"/><circle cx="449.6" cy="333.1" r="3.25"/><circle cx="450.4" cy="333.1" r="3.25"/><circle cx="451.2" cy="333.1" r="3.25"/><circle cx="452.0" cy="333.1" r="3.25"/><circle cx="452.8" cy="333.1" r="3.25"/><circle cx="453.6" cy="333.1" r="3.25"/><circle cx="454.4" cy="333.1" r="3.25"/><circle cx="455.2" cy="333.1" r="3.25"/><circle cx="456.0" cy="333.1" r="3.25"/><circle cx="456.8" cy="333.1" r="3.25"/><circle cx="457.6" cy="333.1" r="3.25"/><circle cx="458.4" cy="333.1" r="3.25"/><circle cx="459.2" cy="333.1" r="3.25"/><circle cx="460.0" cy="333.1" r="3.25"/><circle cx="460.8" cy="333.1" r="3.25"/><circle cx="461.6" cy="333.1" r="3.25"/><circle cx="462.4" cy="333.1" r="3.25"/><circle cx="463.2" cy="333.1" r="3.25"/><circle cx="464.0" cy="333.1" r="3.25"/><circle cx="464.8" cy="333.1" r="3.25"/><circle cx="465.6" cy="333.1" r="3.25"/><circle cx="466.4" cy="333.1" r="3.25"/></g><path d="M77.0 37.4 L77.7 37.9 L78.3 37.9 L78.9 38.7 L79.6 38.2 L80.2 37.8 L80.9 38.4 L81.5 38.3 L82.1 38.2 L82.8 38.1 L83.4 38.1 L84.1 38.0 L84.7 38.5 L85.4 38.1 L86.0 38.5 L86.6 38.1 L87.3 38.8 L87.9 37.9 L88.6 38.8 L89.2 38.9 L89.8 38.0 L90.5 38.5 L91.1 38.6 L91.8 38.9 L92.4 39.0 L93.1 38.9 L93.7 38.8 L94.3 39.5 L95.0 38.8 L95.6 39.3 L96.3 39.1 L105.4 41.7 L113.4 43.4 L121.5 45.4 L129.5 47.6 L137.5 49.7 L145.5 52.1 L161.6 57.7 L169.6 61.2 L177.6 65.1 L185.6 69.4 L193.7 74.4 L201.7 80.3 L209.7 87.2 L217.7 95.2 L225.7 104.1 L233.8 113.7 L241.8 123.9 L249.8 134.3 L257.8 144.9 L265.8 155.2 L273.9 165.6 L281.9 176.3 L289.9 187.0 L297.9 197.6 L306.0 207.9 L314.0 217.6 L322.0 227.1 L330.0 236.5 L338.0 245.8 L346.1 255.1 L354.1 264.2 L362.1 273.2 L370.1 282.1 L378.2 290.7 L386.2 299.2 L390.2 303.3 L394.2 307.3 L398.2 311.3 L402.2 315.2 L403.0 315.9 L403.8 316.7 L404.6 317.5 L405.4 318.3 L406.2 319.1 L407.0 319.9 L407.8 320.7 L408.6 321.5 L409.4 322.3 L410.2 323.1 L411.0 323.8 L411.9 324.6 L412.7 325.3 L413.5 326.0 L414.3 326.7 L415.1 327.3 L415.9 328.0 L416.7 328.5 L417.5 329.1 L418.3 329.6 L419.1 330.1 L419.9 330.6 L420.7 331.1 L421.5 331.6 L422.3 332.0 L423.1 332.4 L423.9 332.8 L424.7 333.1 L425.5 333.3 L426.3 333.4 L427.1 333.5 L427.9 333.6 L428.7 333.6 L429.5 333.7 L430.3 333.7 L431.1 333.7 L431.9 333.7 L432.7 333.7 L433.5 333.7 L434.3 333.7 L435.1 333.7 L435.9 333.7 L436.7 333.7 L437.5 333.7 L438.3 333.7 L439.1 333.7 L439.9 333.7 L440.7 333.7 L441.5 333.7 L442.3 333.7 L443.1 333.7 L443.9 333.7 L444.7 333.7 L445.5 333.7 L446.3 333.7 L447.1 333.7 L447.9 333.7 L448.8 333.7 L449.6 333.7 L450.4 333.7 L451.2 333.7 L452.0 333.7 L452.8 333.7 L453.6 333.7 L454.4 333.7 L455.2 333.7 L456.0 333.7 L456.8 333.7 L457.6 333.7 L458.4 333.7 L459.2 333.7 L460.0 333.7 L460.8 333.7 L461.6 333.7 L462.4 333.7 L463.2 333.7 L464.0 333.7 L464.8 333.7 L465.6 333.7 L466.4 333.7" fill="none" stroke="#52a3a7" stroke-width="1.5"/><g fill="#52a3a7"><circle cx="77.0" cy="37.4" r="3.25"/><circle cx="77.7" cy="37.9" r="3.25"/><circle cx="78.3" cy="37.9" r="3.25"/><circle cx="78.9" cy="38.7" r="3.25"/><circle cx="79.6" cy="38.2" r="3.25"/><circle cx="80.2" cy="37.8" r="3.25"/><circle cx="80.9" cy="38.4" r="3.25"/><circle cx="81.5" cy="38.3" r="3.25"/><circle cx="82.1" cy="38.2" r="3.25"/><circle cx="82.8" cy="38.1" r="3.25"/><circle cx="83.4" cy="38.1" r="3.25"/><circle cx="84.1" cy="38.0" r="3.25"/><circle cx="84.7" cy="38.5" r="3.25"/><circle cx="85.4" cy="38.1" r="3.25"/><circle cx="86.0" cy="38.5" r="3.25"/><circle cx="86.6" cy="38.1" r="3.25"/><circle cx="87.3" cy="38.8" r="3.25"/><circle cx="87.9" cy="37.9" r="3.25"/><circle cx="88.6" cy="38.8" r="3.25"/><circle cx="89.2" cy="38.9" r="3.25"/><circle cx="89.8" cy="38.0" r="3.25"/><circle cx="90.5" cy="38.5" r="3.25"/><circle cx="91.1" cy="38.6" r="3.25"/><circle cx="91.8" cy="38.9" r="3.25"/><circle cx="92.4" cy="39.0" r="3.25"/><circle cx="93.1" cy="38.9" r="3.25"/><circle cx="93.7" cy="38.8" r="3.25"/><circle cx="94.3" cy="39.5" r="3.25"/><circle cx="95.0" cy="38.8" r="3.25"/><circle cx="95.6" cy="39.3" r="3.25"/><circle cx="96.3" cy="39.1" r="3.25"/><circle cx="105.4" cy="41.7" r="3.25"/><circle cx="113.4" cy="43.4" r="3.25"/><circle cx="121.5" cy="45.4" r="3.25"/><circle cx="129.5" cy="47.6" r="3.25"/><circle cx="137.5" cy="49.7" r="3.25"/><circle cx="145.5" cy="52.1" r="3.25"/><circle cx="161.6" cy="57.7" r="3.25"/><circle cx="169.6" cy="61.2" r="3.25"/><circle cx="177.6" cy="65.1" r="3.25"/><circle cx="185.6" cy="69.4" r="3.25"/><circle cx="193.7" cy="74.4" r="3.25"/><circle cx="201.7" cy="80.3" r="3.25"/><circle cx="209.7" cy="87.2" r="3.25"/><circle cx="217.7" cy="95.2" r="3.25"/><circle cx="225.7" cy="104.1" r="3.25"/><circle cx="233.8" cy="113.7" r="3.25"/><circle cx="241.8" cy="123.9" r="3.25"/><circle cx="249.8" cy="134.3" r="3.25"/><circle cx="257.8" cy="144.9" r="3.25"/><circle cx="265.8" cy="155.2" r="3.25"/><circle cx="273.9" cy="165.6" r="3.25"/><circle cx="281.9" cy="176.3" r="3.25"/><circle cx="289.9" cy="187.0" r="3.25"/><circle cx="297.9" cy="197.6" r="3.25"/><circle cx="306.0" cy="207.9" r="3.25"/><circle cx="314.0" cy="217.6" r="3.25"/><circle cx="322.0" cy="227.1" r="3.25"/><circle cx="330.0" cy="236.5" r="3.25"/><circle cx="338.0" cy="245.8" r="3.25"/><circle cx="346.1" cy="255.1" r="3.25"/><circle cx="354.1" cy="264.2" r="3.25"/><circle cx="362.1" cy="273.2" r="3.25"/><circle cx="370.1" cy="282.1" r="3.25"/><circle cx="378.2" cy="290.7" r="3.25"/><circle cx="386.2" cy="299.2" r="3.25"/><circle cx="390.2" cy="303.3" r="3.25"/><circle cx="394.2" cy="307.3" r="3.25"/><circle cx="398.2" cy="311.3" r="3.25"/><circle cx="402.2" cy="315.2" r="3.25"/><circle cx="403.0" cy="315.9" r="3.25"/><circle cx="403.8" cy="316.7" r="3.25"/><circle cx="404.6" cy="317.5" r="3.25"/><circle cx="405.4" cy="318.3" r="3.25"/><circle cx="406.2" cy="319.1" r="3.25"/><circle cx="407.0" cy="319.9" r="3.25"/><circle cx="407.8" cy="320.7" r="3.25"/><circle cx="408.6" cy="321.5" r="3.25"/><circle cx="409.4" cy="322.3" r="3.25"/><circle cx="410.2" cy="323.1" r="3.25"/><circle cx="411.0" cy="323.8" r="3.25"/><circle cx="411.9" cy="324.6" r="3.25"/><circle cx="412.7" cy="325.3" r="3.25"/><circle cx="413.5" cy="326.0" r="3.25"/><circle cx="414.3" cy="326.7" r="3.25"/><circle cx="415.1" cy="327.3" r="3.25"/><circle cx="415.9" cy="328.0" r="3.25"/><circle cx="416.7" cy="328.5" r="3.25"/><circle cx="417.5" cy="329.1" r="3.25"/><circle cx="418.3" cy="329.6" r="3.25"/><circle cx="419.1" cy="330.1" r="3.25"/><circle cx="419.9" cy="330.6" r="3.25"/><circle cx="420.7" cy="331.1" r="3.25"/><circle cx="421.5" cy="331.6" r="3.25"/><circle cx="422.3" cy="332.0" r="3.25"/><circle cx="423.1" cy="332.4" r="3.25"/><circle cx="423.9" cy="332.8" r="3.25"/><circle cx="424.7" cy="333.1" r="3.25"/><circle cx="425.5" cy="333.3" r="3.25"/><circle cx="426.3" cy="333.4" r="3.25"/><circle cx="427.1" cy="333.5" r="3.25"/><circle cx="427.9" cy="333.6" r="3.25"/><circle cx="428.7" cy="333.6" r="3.25"/><circle cx="429.5" cy="333.7" r="3.25"/><circle cx="430.3" cy="333.7" r="3.25"/><circle cx="431.1" cy="333.7" r="3.25"/><circle cx="431.9" cy="333.7" r="3.25"/><circle cx="432.7" cy="333.7" r="3.25"/><circle cx="433.5" cy="333.7" r="3.25"/><circle cx="434.3" cy="333.7" r="3.25"/><circle cx="435.1" cy="333.7" r="3.25"/><circle cx="435.9" cy="333.7" r="3.25"/><circle cx="436.7" cy="333.7" r="3.25"/><circle cx="437.5" cy="333.7" r="3.25"/><circle cx="438.3" cy="333.7" r="3.25"/><circle cx="439.1" cy="333.7" r="3.25"/><circle cx="439.9" cy="333.7" r="3.25"/><circle cx="440.7" cy="333.7" r="3.25"/><circle cx="441.5" cy="333.7" r="3.25"/><circle cx="442.3" cy="333.7" r="3.25"/><circle cx="443.1" cy="333.7" r="3.25"/><circle cx="443.9" cy="333.7" r="3.25"/><circle cx="444.7" cy="333.7" r="3.25"/><circle cx="445.5" cy="333.7" r="3.25"/><circle cx="446.3" cy="333.7" r="3.25"/><circle cx="447.1" cy="333.7" r="3.25"/><circle cx="447.9" cy="333.7" r="3.25"/><circle cx="448.8" cy="333.7" r="3.25"/><circle cx="449.6" cy="333.7" r="3.25"/><circle cx="450.4" cy="333.7" r="3.25"/><circle cx="451.2" cy="333.7" r="3.25"/><circle cx="452.0" cy="333.7" r="3.25"/><circle cx="452.8" cy="333.7" r="3.25"/><circle cx="453.6" cy="333.7" r="3.25"/><circle cx="454.4" cy="333.7" r="3.25"/><circle cx="455.2" cy="333.7" r="3.25"/><circle cx="456.0" cy="333.7" r="3.25"/><circle cx="456.8" cy="333.7" r="3.25"/><circle cx="457.6" cy="333.7" r="3.25"/><circle cx="458.4" cy="333.7" r="3.25"/><circle cx="459.2" cy="333.7" r="3.25"/><circle cx="460.0" cy="333.7" r="3.25"/><circle cx="460.8" cy="333.7" r="3.25"/><circle cx="461.6" cy="333.7" r="3.25"/><circle cx="462.4" cy="333.7" r="3.25"/><circle cx="463.2" cy="333.7" r="3.25"/><circle cx="464.0" cy="333.7" r="3.25"/><circle cx="464.8" cy="333.7" r="3.25"/><circle cx="465.6" cy="333.7" r="3.25"/><circle cx="466.4" cy="333.7" r="3.25"/></g><path d="M77.3 46.5 L78.0 46.0 L78.6 46.1 L79.3 46.1 L79.9 46.5 L80.5 46.4 L81.2 46.6 L81.8 47.0 L82.5 47.1 L83.1 46.9 L83.8 47.1 L84.4 47.0 L85.0 48.2 L85.7 47.8 L86.3 48.3 L87.0 48.0 L87.6 48.9 L88.2 48.7 L88.9 49.1 L89.5 49.0 L90.2 49.5 L90.8 48.3 L91.5 49.5 L92.1 49.8 L92.7 50.3 L93.4 50.5 L94.0 50.0 L94.7 50.6 L95.3 51.2 L95.9 50.9 L96.6 51.1 L97.2 51.6 L97.9 51.7 L105.4 54.4 L113.4 57.7 L121.5 61.2 L129.5 64.8 L137.5 68.0 L145.5 71.5 L161.6 79.7 L169.6 84.0 L177.6 89.0 L185.6 93.8 L193.7 99.7 L201.7 106.4 L209.7 113.9 L217.7 122.3 L225.7 131.2 L233.8 140.2 L241.8 149.3 L249.8 159.0 L257.8 168.4 L265.8 176.6 L273.9 186.0 L281.9 195.2 L289.9 204.2 L297.9 213.2 L306.0 222.0 L314.0 230.4 L322.0 238.7 L330.0 247.0 L338.0 255.1 L346.1 263.0 L354.1 270.8 L362.1 278.3 L370.1 285.7 L378.2 292.9 L386.2 299.7 L387.0 300.3 L387.8 301.0 L388.6 301.6 L389.4 302.2 L390.2 302.8 L391.0 303.4 L391.8 304.0 L392.6 304.7 L393.4 305.3 L394.2 306.0 L395.0 306.8 L395.8 307.5 L396.6 308.3 L397.4 309.2 L398.2 310.0 L399.0 310.9 L399.8 311.7 L400.6 312.6 L401.4 313.4 L402.2 314.2 L403.0 315.0 L403.8 315.8 L404.6 316.6 L405.4 317.4 L406.2 318.1 L407.0 318.9 L407.8 319.7 L408.6 320.4 L409.4 321.2 L410.2 321.9 L411.0 322.6 L411.9 323.3 L412.7 324.0 L413.5 324.6 L414.3 325.3 L415.1 326.0 L415.9 326.7 L416.7 327.3 L417.5 328.0 L418.3 328.7 L419.1 329.5 L419.9 330.4 L420.7 331.3 L421.5 332.2 L422.3 333.0 L423.1 333.7 L423.9 334.2 L424.7 334.4 L425.5 334.4 L426.3 334.5 L427.1 334.5 L427.9 334.5 L428.7 334.5 L429.5 334.5 L430.3 334.5 L431.1 334.5 L431.9 334.5 L432.7 334.5 L433.5 334.5 L434.3 334.5 L435.1 334.5 L435.9 334.5 L436.7 334.5 L437.5 334.5 L438.3 334.5 L439.1 334.5 L439.9 334.5 L440.7 334.5 L441.5 334.5 L442.3 334.5 L443.1 334.5 L443.9 334.5 L444.7 334.5 L445.5 334.5 L446.3 334.5 L447.1 334.5 L447.9 334.5 L448.8 334.5 L449.6 334.5 L450.4 334.5 L451.2 334.5 L452.0 334.5 L452.8 334.5 L453.6 334.5 L454.4 334.5 L455.2 334.5 L456.0 334.5 L456.8 334.5 L457.6 334.5 L458.4 334.5 L459.2 334.5 L460.0 334.5 L460.8 334.5 L461.6 334.5 L462.4 334.5 L463.2 334.5 L464.0 334.5 L464.8 334.5 L465.6 334.5 L466.4 334.5" fill="none" stroke="#3f79d4" stroke-width="1.5"/><g fill="#3f79d4"><circle cx="77.3" cy="46.5" r="3.25"/><circle cx="78.0" cy="46.0" r="3.25"/><circle cx="78.6" cy="46.1" r="3.25"/><circle cx="79.3" cy="46.1" r="3.25"/><circle cx="79.9" cy="46.5" r="3.25"/><circle cx="80.5" cy="46.4" r="3.25"/><circle cx="81.2" cy="46.6" r="3.25"/><circle cx="81.8" cy="47.0" r="3.25"/><circle cx="82.5" cy="47.1" r="3.25"/><circle cx="83.1" cy="46.9" r="3.25"/><circle cx="83.8" cy="47.1" r="3.25"/><circle cx="84.4" cy="47.0" r="3.25"/><circle cx="85.0" cy="48.2" r="3.25"/><circle cx="85.7" cy="47.8" r="3.25"/><circle cx="86.3" cy="48.3" r="3.25"/><circle cx="87.0" cy="48.0" r="3.25"/><circle cx="87.6" cy="48.9" r="3.25"/><circle cx="88.2" cy="48.7" r="3.25"/><circle cx="88.9" cy="49.1" r="3.25"/><circle cx="89.5" cy="49.0" r="3.25"/><circle cx="90.2" cy="49.5" r="3.25"/><circle cx="90.8" cy="48.3" r="3.25"/><circle cx="91.5" cy="49.5" r="3.25"/><circle cx="92.1" cy="49.8" r="3.25"/><circle cx="92.7" cy="50.3" r="3.25"/><circle cx="93.4" cy="50.5" r="3.25"/><circle cx="94.0" cy="50.0" r="3.25"/><circle cx="94.7" cy="50.6" r="3.25"/><circle cx="95.3" cy="51.2" r="3.25"/><circle cx="95.9" cy="50.9" r="3.25"/><circle cx="96.6" cy="51.1" r="3.25"/><circle cx="97.2" cy="51.6" r="3.25"/><circle cx="97.9" cy="51.7" r="3.25"/><circle cx="105.4" cy="54.4" r="3.25"/><circle cx="113.4" cy="57.7" r="3.25"/><circle cx="121.5" cy="61.2" r="3.25"/><circle cx="129.5" cy="64.8" r="3.25"/><circle cx="137.5" cy="68.0" r="3.25"/><circle cx="145.5" cy="71.5" r="3.25"/><circle cx="161.6" cy="79.7" r="3.25"/><circle cx="169.6" cy="84.0" r="3.25"/><circle cx="177.6" cy="89.0" r="3.25"/><circle cx="185.6" cy="93.8" r="3.25"/><circle cx="193.7" cy="99.7" r="3.25"/><circle cx="201.7" cy="106.4" r="3.25"/><circle cx="209.7" cy="113.9" r="3.25"/><circle cx="217.7" cy="122.3" r="3.25"/><circle cx="225.7" cy="131.2" r="3.25"/><circle cx="233.8" cy="140.2" r="3.25"/><circle cx="241.8" cy="149.3" r="3.25"/><circle cx="249.8" cy="159.0" r="3.25"/><circle cx="257.8" cy="168.4" r="3.25"/><circle cx="265.8" cy="176.6" r="3.25"/><circle cx="273.9" cy="186.0" r="3.25"/><circle cx="281.9" cy="195.2" r="3.25"/><circle cx="289.9" cy="204.2" r="3.25"/><circle cx="297.9" cy="213.2" r="3.25"/><circle cx="306.0" cy="222.0" r="3.25"/><circle cx="314.0" cy="230.4" r="3.25"/><circle cx="322.0" cy="238.7" r="3.25"/><circle cx="330.0" cy="247.0" r="3.25"/><circle cx="338.0" cy="255.1" r="3.25"/><circle cx="346.1" cy="263.0" r="3.25"/><circle cx="354.1" cy="270.8" r="3.25"/><circle cx="362.1" cy="278.3" r="3.25"/><circle cx="370.1" cy="285.7" r="3.25"/><circle cx="378.2" cy="292.9" r="3.25"/><circle cx="386.2" cy="299.7" r="3.25"/><circle cx="387.0" cy="300.3" r="3.25"/><circle cx="387.8" cy="301.0" r="3.25"/><circle cx="388.6" cy="301.6" r="3.25"/><circle cx="389.4" cy="302.2" r="3.25"/><circle cx="390.2" cy="302.8" r="3.25"/><circle cx="391.0" cy="303.4" r="3.25"/><circle cx="391.8" cy="304.0" r="3.25"/><circle cx="392.6" cy="304.7" r="3.25"/><circle cx="393.4" cy="305.3" r="3.25"/><circle cx="394.2" cy="306.0" r="3.25"/><circle cx="395.0" cy="306.8" r="3.25"/><circle cx="395.8" cy="307.5" r="3.25"/><circle cx="396.6" cy="308.3" r="3.25"/><circle cx="397.4" cy="309.2" r="3.25"/><circle cx="398.2" cy="310.0" r="3.25"/><circle cx="399.0" cy="310.9" r="3.25"/><circle cx="399.8" cy="311.7" r="3.25"/><circle cx="400.6" cy="312.6" r="3.25"/><circle cx="401.4" cy="313.4" r="3.25"/><circle cx="402.2" cy="314.2" r="3.25"/><circle cx="403.0" cy="315.0" r="3.25"/><circle cx="403.8" cy="315.8" r="3.25"/><circle cx="404.6" cy="316.6" r="3.25"/><circle cx="405.4" cy="317.4" r="3.25"/><circle cx="406.2" cy="318.1" r="3.25"/><circle cx="407.0" cy="318.9" r="3.25"/><circle cx="407.8" cy="319.7" r="3.25"/><circle cx="408.6" cy="320.4" r="3.25"/><circle cx="409.4" cy="321.2" r="3.25"/><circle cx="410.2" cy="321.9" r="3.25"/><circle cx="411.0" cy="322.6" r="3.25"/><circle cx="411.9" cy="323.3" r="3.25"/><circle cx="412.7" cy="324.0" r="3.25"/><circle cx="413.5" cy="324.6" r="3.25"/><circle cx="414.3" cy="325.3" r="3.25"/><circle cx="415.1" cy="326.0" r="3.25"/><circle cx="415.9" cy="326.7" r="3.25"/><circle cx="416.7" cy="327.3" r="3.25"/><circle cx="417.5" cy="328.0" r="3.25"/><circle cx="418.3" cy="328.7" r="3.25"/><circle cx="419.1" cy="329.5" r="3.25"/><circle cx="419.9" cy="330.4" r="3.25"/><circle cx="420.7" cy="331.3" r="3.25"/><circle cx="421.5" cy="332.2" r="3.25"/><circle cx="422.3" cy="333.0" r="3.25"/><circle cx="423.1" cy="333.7" r="3.25"/><circle cx="423.9" cy="334.2" r="3.25"/><circle cx="424.7" cy="334.4" r="3.25"/><circle cx="425.5" cy="334.4" r="3.25"/><circle cx="426.3" cy="334.5" r="3.25"/><circle cx="427.1" cy="334.5" r="3.25"/><circle cx="427.9" cy="334.5" r="3.25"/><circle cx="428.7" cy="334.5" r="3.25"/><circle cx="429.5" cy="334.5" r="3.25"/><circle cx="430.3" cy="334.5" r="3.25"/><circle cx="431.1" cy="334.5" r="3.25"/><circle cx="431.9" cy="334.5" r="3.25"/><circle cx="432.7" cy="334.5" r="3.25"/><circle cx="433.5" cy="334.5" r="3.25"/><circle cx="434.3" cy="334.5" r="3.25"/><circle cx="435.1" cy="334.5" r="3.25"/><circle cx="435.9" cy="334.5" r="3.25"/><circle cx="436.7" cy="334.5" r="3.25"/><circle cx="437.5" cy="334.5" r="3.25"/><circle cx="438.3" cy="334.5" r="3.25"/><circle cx="439.1" cy="334.5" r="3.25"/><circle cx="439.9" cy="334.5" r="3.25"/><circle cx="440.7" cy="334.5" r="3.25"/><circle cx="441.5" cy="334.5" r="3.25"/><circle cx="442.3" cy="334.5" r="3.25"/><circle cx="443.1" cy="334.5" r="3.25"/><circle cx="443.9" cy="334.5" r="3.25"/><circle cx="444.7" cy="334.5" r="3.25"/><circle cx="445.5" cy="334.5" r="3.25"/><circle cx="446.3" cy="334.5" r="3.25"/><circle cx="447.1" cy="334.5" r="3.25"/><circle cx="447.9" cy="334.5" r="3.25"/><circle cx="448.8" cy="334.5" r="3.25"/><circle cx="449.6" cy="334.5" r="3.25"/><circle cx="450.4" cy="334.5" r="3.25"/><circle cx="451.2" cy="334.5" r="3.25"/><circle cx="452.0" cy="334.5" r="3.25"/><circle cx="452.8" cy="334.5" r="3.25"/><circle cx="453.6" cy="334.5" r="3.25"/><circle cx="454.4" cy="334.5" r="3.25"/><circle cx="455.2" cy="334.5" r="3.25"/><circle cx="456.0" cy="334.5" r="3.25"/><circle cx="456.8" cy="334.5" r="3.25"/><circle cx="457.6" cy="334.5" r="3.25"/><circle cx="458.4" cy="334.5" r="3.25"/><circle cx="459.2" cy="334.5" r="3.25"/><circle cx="460.0" cy="334.5" r="3.25"/><circle cx="460.8" cy="334.5" r="3.25"/><circle cx="461.6" cy="334.5" r="3.25"/><circle cx="462.4" cy="334.5" r="3.25"/><circle cx="463.2" cy="334.5" r="3.25"/><circle cx="464.0" cy="334.5" r="3.25"/><circle cx="464.8" cy="334.5" r="3.25"/><circle cx="465.6" cy="334.5" r="3.25"/><circle cx="466.4" cy="334.5" r="3.25"/></g><path d="M81.3 51.3 L85.4 52.4 L89.4 53.7 L93.4 55.1 L97.4 56.5 L101.4 58.2 L105.4 60.0 L109.4 61.9 L113.4 63.8 L117.4 65.6 L121.5 67.4 L125.5 69.3 L129.5 71.2 L133.5 73.1 L137.5 75.1 L141.5 77.1 L145.5 79.2 L149.5 81.4 L153.5 83.6 L157.6 85.9 L161.6 88.3 L165.6 90.6 L169.6 92.9 L173.6 95.3 L177.6 97.9 L181.6 100.6 L185.6 103.4 L189.6 106.4 L193.7 109.6 L197.7 113.1 L201.7 117.0 L205.7 121.0 L209.7 125.1 L213.7 129.4 L217.7 134.0 L221.7 138.5 L225.7 142.7 L229.8 146.5 L233.8 149.9 L237.8 153.4 L241.8 157.1 L245.8 161.4 L249.8 165.9 L253.8 170.5 L257.8 174.8 L261.8 178.6 L265.8 182.5 L269.9 186.7 L273.9 191.0 L277.9 195.2 L281.9 199.5 L285.9 203.7 L289.9 208.0 L293.9 212.2 L297.9 216.4 L301.9 220.6 L306.0 224.8 L310.0 229.0 L314.0 233.3 L318.0 237.4 L322.0 241.6 L326.0 245.7 L330.0 249.9 L334.0 253.9 L338.0 257.9 L342.1 261.9 L346.1 265.8 L350.1 269.6 L354.1 273.4 L358.1 277.2 L362.1 281.0 L366.1 284.7 L370.1 288.4 L374.1 291.8 L378.2 295.0 L382.2 298.3 L386.2 302.0 L387.0 302.9 L387.8 303.8 L388.6 304.7 L389.4 305.7 L390.2 306.7 L391.0 307.7 L391.8 308.6 L392.6 309.6 L393.4 310.5 L394.2 311.4 L395.0 312.2 L395.8 312.9 L396.6 313.7 L397.4 314.5 L398.2 315.2 L399.0 315.9 L399.8 316.6 L400.6 317.3 L401.4 318.0 L402.2 318.7 L403.0 319.4 L403.8 320.1 L404.6 320.8 L405.4 321.5 L406.2 322.1 L407.0 322.8 L407.8 323.5 L408.6 324.1 L409.4 324.7 L410.2 325.3 L411.0 325.9 L411.9 326.4 L412.7 326.9 L413.5 327.5 L414.3 328.0 L415.1 328.5 L415.9 329.0 L416.7 329.5 L417.5 330.0 L418.3 330.5 L419.1 331.1 L419.9 331.7 L420.7 332.4 L421.5 333.1 L422.3 333.7 L423.1 334.2 L423.9 334.5 L424.7 334.7 L425.5 334.8 L426.3 334.8 L427.1 334.9 L427.9 334.9 L428.7 334.9 L429.5 334.9 L430.3 334.9 L431.1 334.9 L431.9 334.9 L432.7 334.9 L433.5 334.9 L434.3 334.9 L435.1 334.9 L435.9 334.9 L436.7 334.9 L437.5 334.9 L438.3 334.9 L439.1 334.9 L439.9 334.9 L440.7 334.9 L441.5 334.9 L442.3 334.9 L443.1 334.9 L443.9 334.9 L444.7 334.9 L445.5 334.9 L446.3 334.9 L447.1 334.9 L447.9 334.9 L448.8 334.9 L449.6 334.9 L450.4 334.9 L451.2 334.9 L452.0 334.9 L452.8 334.9 L453.6 334.9 L454.4 334.9 L455.2 334.9 L456.0 334.9 L456.8 334.9 L457.6 334.9 L458.4 334.9 L459.2 334.9 L460.0 334.9 L460.8 334.9 L461.6 334.9 L462.4 334.9 L463.2 334.9 L464.0 334.9 L464.8 334.9 L465.6 334.9 L466.4 334.9" fill="none" stroke="#3a2ecb" stroke-width="1.5"/><g fill="#3a2ecb"><circle cx="81.3" cy="51.3" r="3.25"/><circle cx="85.4" cy="52.4" r="3.25"/><circle cx="89.4" cy="53.7" r="3.25"/><circle cx="93.4" cy="55.1" r="3.25"/><circle cx="97.4" cy="56.5" r="3.25"/><circle cx="101.4" cy="58.2" r="3.25"/><circle cx="105.4" cy="60.0" r="3.25"/><circle cx="109.4" cy="61.9" r="3.25"/><circle cx="113.4" cy="63.8" r="3.25"/><circle cx="117.4" cy="65.6" r="3.25"/><circle cx="121.5" cy="67.4" r="3.25"/><circle cx="125.5" cy="69.3" r="3.25"/><circle cx="129.5" cy="71.2" r="3.25"/><circle cx="133.5" cy="73.1" r="3.25"/><circle cx="137.5" cy="75.1" r="3.25"/><circle cx="141.5" cy="77.1" r="3.25"/><circle cx="145.5" cy="79.2" r="3.25"/><circle cx="149.5" cy="81.4" r="3.25"/><circle cx="153.5" cy="83.6" r="3.25"/><circle cx="157.6" cy="85.9" r="3.25"/><circle cx="161.6" cy="88.3" r="3.25"/><circle cx="165.6" cy="90.6" r="3.25"/><circle cx="169.6" cy="92.9" r="3.25"/><circle cx="173.6" cy="95.3" r="3.25"/><circle cx="177.6" cy="97.9" r="3.25"/><circle cx="181.6" cy="100.6" r="3.25"/><circle cx="185.6" cy="103.4" r="3.25"/><circle cx="189.6" cy="106.4" r="3.25"/><circle cx="193.7" cy="109.6" r="3.25"/><circle cx="197.7" cy="113.1" r="3.25"/><circle cx="201.7" cy="117.0" r="3.25"/><circle cx="205.7" cy="121.0" r="3.25"/><circle cx="209.7" cy="125.1" r="3.25"/><circle cx="213.7" cy="129.4" r="3.25"/><circle cx="217.7" cy="134.0" r="3.25"/><circle cx="221.7" cy="138.5" r="3.25"/><circle cx="225.7" cy="142.7" r="3.25"/><circle cx="229.8" cy="146.5" r="3.25"/><circle cx="233.8" cy="149.9" r="3.25"/><circle cx="237.8" cy="153.4" r="3.25"/><circle cx="241.8" cy="157.1" r="3.25"/><circle cx="245.8" cy="161.4" r="3.25"/><circle cx="249.8" cy="165.9" r="3.25"/><circle cx="253.8" cy="170.5" r="3.25"/><circle cx="257.8" cy="174.8" r="3.25"/><circle cx="261.8" cy="178.6" r="3.25"/><circle cx="265.8" cy="182.5" r="3.25"/><circle cx="269.9" cy="186.7" r="3.25"/><circle cx="273.9" cy="191.0" r="3.25"/><circle cx="277.9" cy="195.2" r="3.25"/><circle cx="281.9" cy="199.5" r="3.25"/><circle cx="285.9" cy="203.7" r="3.25"/><circle cx="289.9" cy="208.0" r="3.25"/><circle cx="293.9" cy="212.2" r="3.25"/><circle cx="297.9" cy="216.4" r="3.25"/><circle cx="301.9" cy="220.6" r="3.25"/><circle cx="306.0" cy="224.8" r="3.25"/><circle cx="310.0" cy="229.0" r="3.25"/><circle cx="314.0" cy="233.3" r="3.25"/><circle cx="318.0" cy="237.4" r="3.25"/><circle cx="322.0" cy="241.6" r="3.25"/><circle cx="326.0" cy="245.7" r="3.25"/><circle cx="330.0" cy="249.9" r="3.25"/><circle cx="334.0" cy="253.9" r="3.25"/><circle cx="338.0" cy="257.9" r="3.25"/><circle cx="342.1" cy="261.9" r="3.25"/><circle cx="346.1" cy="265.8" r="3.25"/><circle cx="350.1" cy="269.6" r="3.25"/><circle cx="354.1" cy="273.4" r="3.25"/><circle cx="358.1" cy="277.2" r="3.25"/><circle cx="362.1" cy="281.0" r="3.25"/><circle cx="366.1" cy="284.7" r="3.25"/><circle cx="370.1" cy="288.4" r="3.25"/><circle cx="374.1" cy="291.8" r="3.25"/><circle cx="378.2" cy="295.0" r="3.25"/><circle cx="382.2" cy="298.3" r="3.25"/><circle cx="386.2" cy="302.0" r="3.25"/><circle cx="387.0" cy="302.9" r="3.25"/><circle cx="387.8" cy="303.8" r="3.25"/><circle cx="388.6" cy="304.7" r="3.25"/><circle cx="389.4" cy="305.7" r="3.25"/><circle cx="390.2" cy="306.7" r="3.25"/><circle cx="391.0" cy="307.7" r="3.25"/><circle cx="391.8" cy="308.6" r="3.25"/><circle cx="392.6" cy="309.6" r="3.25"/><circle cx="393.4" cy="310.5" r="3.25"/><circle cx="394.2" cy="311.4" r="3.25"/><circle cx="395.0" cy="312.2" r="3.25"/><circle cx="395.8" cy="312.9" r="3.25"/><circle cx="396.6" cy="313.7" r="3.25"/><circle cx="397.4" cy="314.5" r="3.25"/><circle cx="398.2" cy="315.2" r="3.25"/><circle cx="399.0" cy="315.9" r="3.25"/><circle cx="399.8" cy="316.6" r="3.25"/><circle cx="400.6" cy="317.3" r="3.25"/><circle cx="401.4" cy="318.0" r="3.25"/><circle cx="402.2" cy="318.7" r="3.25"/><circle cx="403.0" cy="319.4" r="3.25"/><circle cx="403.8" cy="320.1" r="3.25"/><circle cx="404.6" cy="320.8" r="3.25"/><circle cx="405.4" cy="321.5" r="3.25"/><circle cx="406.2" cy="322.1" r="3.25"/><circle cx="407.0" cy="322.8" r="3.25"/><circle cx="407.8" cy="323.5" r="3.25"/><circle cx="408.6" cy="324.1" r="3.25"/><circle cx="409.4" cy="324.7" r="3.25"/><circle cx="410.2" cy="325.3" r="3.25"/><circle cx="411.0" cy="325.9" r="3.25"/><circle cx="411.9" cy="326.4" r="3.25"/><circle cx="412.7" cy="326.9" r="3.25"/><circle cx="413.5" cy="327.5" r="3.25"/><circle cx="414.3" cy="328.0" r="3.25"/><circle cx="415.1" cy="328.5" r="3.25"/><circle cx="415.9" cy="329.0" r="3.25"/><circle cx="416.7" cy="329.5" r="3.25"/><circle cx="417.5" cy="330.0" r="3.25"/><circle cx="418.3" cy="330.5" r="3.25"/><circle cx="419.1" cy="331.1" r="3.25"/><circle cx="419.9" cy="331.7" r="3.25"/><circle cx="420.7" cy="332.4" r="3.25"/><circle cx="421.5" cy="333.1" r="3.25"/><circle cx="422.3" cy="333.7" r="3.25"/><circle cx="423.1" cy="334.2" r="3.25"/><circle cx="423.9" cy="334.5" r="3.25"/><circle cx="424.7" cy="334.7" r="3.25"/><circle cx="425.5" cy="334.8" r="3.25"/><circle cx="426.3" cy="334.8" r="3.25"/><circle cx="427.1" cy="334.9" r="3.25"/><circle cx="427.9" cy="334.9" r="3.25"/><circle cx="428.7" cy="334.9" r="3.25"/><circle cx="429.5" cy="334.9" r="3.25"/><circle cx="430.3" cy="334.9" r="3.25"/><circle cx="431.1" cy="334.9" r="3.25"/><circle cx="431.9" cy="334.9" r="3.25"/><circle cx="432.7" cy="334.9" r="3.25"/><circle cx="433.5" cy="334.9" r="3.25"/><circle cx="434.3" cy="334.9" r="3.25"/><circle cx="435.1" cy="334.9" r="3.25"/><circle cx="435.9" cy="334.9" r="3.25"/><circle cx="436.7" cy="334.9" r="3.25"/><circle cx="437.5" cy="334.9" r="3.25"/><circle cx="438.3" cy="334.9" r="3.25"/><circle cx="439.1" cy="334.9" r="3.25"/><circle cx="439.9" cy="334.9" r="3.25"/><circle cx="440.7" cy="334.9" r="3.25"/><circle cx="441.5" cy="334.9" r="3.25"/><circle cx="442.3" cy="334.9" r="3.25"/><circle cx="443.1" cy="334.9" r="3.25"/><circle cx="443.9" cy="334.9" r="3.25"/><circle cx="444.7" cy="334.9" r="3.25"/><circle cx="445.5" cy="334.9" r="3.25"/><circle cx="446.3" cy="334.9" r="3.25"/><circle cx="447.1" cy="334.9" r="3.25"/><circle cx="447.9" cy="334.9" r="3.25"/><circle cx="448.8" cy="334.9" r="3.25"/><circle cx="449.6" cy="334.9" r="3.25"/><circle cx="450.4" cy="334.9" r="3.25"/><circle cx="451.2" cy="334.9" r="3.25"/><circle cx="452.0" cy="334.9" r="3.25"/><circle cx="452.8" cy="334.9" r="3.25"/><circle cx="453.6" cy="334.9" r="3.25"/><circle cx="454.4" cy="334.9" r="3.25"/><circle cx="455.2" cy="334.9" r="3.25"/><circle cx="456.0" cy="334.9" r="3.25"/><circle cx="456.8" cy="334.9" r="3.25"/><circle cx="457.6" cy="334.9" r="3.25"/><circle cx="458.4" cy="334.9" r="3.25"/><circle cx="459.2" cy="334.9" r="3.25"/><circle cx="460.0" cy="334.9" r="3.25"/><circle cx="460.8" cy="334.9" r="3.25"/><circle cx="461.6" cy="334.9" r="3.25"/><circle cx="462.4" cy="334.9" r="3.25"/><circle cx="463.2" cy="334.9" r="3.25"/><circle cx="464.0" cy="334.9" r="3.25"/><circle cx="464.8" cy="334.9" r="3.25"/><circle cx="465.6" cy="334.9" r="3.25"/><circle cx="466.4" cy="334.9" r="3.25"/></g><path d="M82.9 62.9 L87.0 65.1 L91.0 67.4 L95.0 69.7 L99.0 72.0 L103.0 74.4 L107.0 76.8 L111.0 79.3 L115.0 81.8 L119.0 84.3 L123.1 86.8 L127.1 89.3 L131.1 91.8 L135.1 94.4 L139.1 97.0 L143.1 99.6 L147.1 102.2 L151.1 105.0 L155.1 107.7 L159.2 110.3 L163.2 112.8 L167.2 115.2 L171.2 117.5 L175.2 119.9 L179.2 122.4 L183.2 125.2 L187.2 128.1 L191.2 131.1 L195.3 134.1 L199.3 137.2 L203.3 140.3 L207.3 143.4 L211.3 146.5 L215.3 149.7 L219.3 152.9 L223.3 156.1 L227.3 159.5 L231.4 163.2 L235.4 167.0 L239.4 170.7 L243.4 174.4 L247.4 177.9 L251.4 181.4 L255.4 185.0 L259.4 188.4 L263.4 191.9 L267.5 195.3 L271.5 198.8 L275.5 202.3 L279.5 205.8 L283.5 209.4 L287.5 213.0 L291.5 216.7 L295.5 220.5 L299.5 224.4 L303.6 228.3 L307.6 232.2 L311.6 236.0 L315.6 239.8 L319.6 243.7 L323.6 247.5 L327.6 251.4 L331.6 255.2 L335.6 259.1 L339.7 262.9 L343.7 266.7 L347.7 270.4 L351.7 274.2 L355.7 277.9 L359.7 281.6 L363.7 285.2 L367.7 288.8 L371.7 292.3 L375.8 295.7 L378.2 297.6 L386.2 304.3 L394.2 310.8 L402.2 317.4 L410.2 324.2 L418.3 330.3 L426.3 334.6" fill="none" stroke="#6e1a86" stroke-width="1.5"/><g fill="#6e1a86"><circle cx="82.9" cy="62.9" r="3.25"/><circle cx="87.0" cy="65.1" r="3.25"/><circle cx="91.0" cy="67.4" r="3.25"/><circle cx="95.0" cy="69.7" r="3.25"/><circle cx="99.0" cy="72.0" r="3.25"/><circle cx="103.0" cy="74.4" r="3.25"/><circle cx="107.0" cy="76.8" r="3.25"/><circle cx="111.0" cy="79.3" r="3.25"/><circle cx="115.0" cy="81.8" r="3.25"/><circle cx="119.0" cy="84.3" r="3.25"/><circle cx="123.1" cy="86.8" r="3.25"/><circle cx="127.1" cy="89.3" r="3.25"/><circle cx="131.1" cy="91.8" r="3.25"/><circle cx="135.1" cy="94.4" r="3.25"/><circle cx="139.1" cy="97.0" r="3.25"/><circle cx="143.1" cy="99.6" r="3.25"/><circle cx="147.1" cy="102.2" r="3.25"/><circle cx="151.1" cy="105.0" r="3.25"/><circle cx="155.1" cy="107.7" r="3.25"/><circle cx="159.2" cy="110.3" r="3.25"/><circle cx="163.2" cy="112.8" r="3.25"/><circle cx="167.2" cy="115.2" r="3.25"/><circle cx="171.2" cy="117.5" r="3.25"/><circle cx="175.2" cy="119.9" r="3.25"/><circle cx="179.2" cy="122.4" r="3.25"/><circle cx="183.2" cy="125.2" r="3.25"/><circle cx="187.2" cy="128.1" r="3.25"/><circle cx="191.2" cy="131.1" r="3.25"/><circle cx="195.3" cy="134.1" r="3.25"/><circle cx="199.3" cy="137.2" r="3.25"/><circle cx="203.3" cy="140.3" r="3.25"/><circle cx="207.3" cy="143.4" r="3.25"/><circle cx="211.3" cy="146.5" r="3.25"/><circle cx="215.3" cy="149.7" r="3.25"/><circle cx="219.3" cy="152.9" r="3.25"/><circle cx="223.3" cy="156.1" r="3.25"/><circle cx="227.3" cy="159.5" r="3.25"/><circle cx="231.4" cy="163.2" r="3.25"/><circle cx="235.4" cy="167.0" r="3.25"/><circle cx="239.4" cy="170.7" r="3.25"/><circle cx="243.4" cy="174.4" r="3.25"/><circle cx="247.4" cy="177.9" r="3.25"/><circle cx="251.4" cy="181.4" r="3.25"/><circle cx="255.4" cy="185.0" r="3.25"/><circle cx="259.4" cy="188.4" r="3.25"/><circle cx="263.4" cy="191.9" r="3.25"/><circle cx="267.5" cy="195.3" r="3.25"/><circle cx="271.5" cy="198.8" r="3.25"/><circle cx="275.5" cy="202.3" r="3.25"/><circle cx="279.5" cy="205.8" r="3.25"/><circle cx="283.5" cy="209.4" r="3.25"/><circle cx="287.5" cy="213.0" r="3.25"/><circle cx="291.5" cy="216.7" r="3.25"/><circle cx="295.5" cy="220.5" r="3.25"/><circle cx="299.5" cy="224.4" r="3.25"/><circle cx="303.6" cy="228.3" r="3.25"/><circle cx="307.6" cy="232.2" r="3.25"/><circle cx="311.6" cy="236.0" r="3.25"/><circle cx="315.6" cy="239.8" r="3.25"/><circle cx="319.6" cy="243.7" r="3.25"/><circle cx="323.6" cy="247.5" r="3.25"/><circle cx="327.6" cy="251.4" r="3.25"/><circle cx="331.6" cy="255.2" r="3.25"/><circle cx="335.6" cy="259.1" r="3.25"/><circle cx="339.7" cy="262.9" r="3.25"/><circle cx="343.7" cy="266.7" r="3.25"/><circle cx="347.7" cy="270.4" r="3.25"/><circle cx="351.7" cy="274.2" r="3.25"/><circle cx="355.7" cy="277.9" r="3.25"/><circle cx="359.7" cy="281.6" r="3.25"/><circle cx="363.7" cy="285.2" r="3.25"/><circle cx="367.7" cy="288.8" r="3.25"/><circle cx="371.7" cy="292.3" r="3.25"/><circle cx="375.8" cy="295.7" r="3.25"/><circle cx="378.2" cy="297.6" r="3.25"/><circle cx="386.2" cy="304.3" r="3.25"/><circle cx="394.2" cy="310.8" r="3.25"/><circle cx="402.2" cy="317.4" r="3.25"/><circle cx="410.2" cy="324.2" r="3.25"/><circle cx="418.3" cy="330.3" r="3.25"/><circle cx="426.3" cy="334.6" r="3.25"/></g></g>
<g clip-path="url(#ca)"><path d="M82.9 62.9 L86.8 65.0 L90.6 67.2 L94.4 69.3 L98.3 71.6 L102.1 73.9 L105.9 76.2 L109.7 78.5 L113.6 80.9 L117.4 83.2 L121.2 85.6 L125.0 88.0 L128.9 90.4 L132.7 92.9 L136.5 95.3 L140.3 97.8 L144.2 100.3 L148.0 102.8 L151.8 105.4 L155.6 108.0 L159.5 110.5 L163.3 112.9 L167.1 115.2 L171.0 117.3 L174.8 119.6 L178.6 122.0 L182.4 124.6 L186.3 127.4 L190.1 130.2 L193.9 133.1 L197.7 136.0 L201.6 138.9 L205.4 141.9 L209.2 144.9 L213.0 147.9 L216.9 150.9 L220.7 153.9 L224.5 157.1 L228.3 160.3 L232.2 163.8 L236.0 167.2 L239.8 170.7 L243.6 174.0 L247.5 177.3 L251.3 180.5 L255.1 183.7 L259.0 186.9 L262.8 190.1 L266.6 193.2 L270.4 196.4 L274.3 199.6 L278.1 202.9 L281.9 206.2 L285.7 209.6 L289.6 213.0 L293.4 216.5 L297.2 220.1 L301.0 223.8 L304.9 227.5 L308.7 231.2 L312.5 235.0 L316.3 238.7 L320.2 242.5 L324.0 246.2 L327.8 250.0 L331.7 253.8 L335.5 257.6 L339.3 261.3 L343.1 265.0 L347.0 268.7 L350.8 272.4 L354.6 276.0 L358.4 279.7 L362.3 283.3 L366.1 286.8 L369.9 290.3 L373.7 293.7 L377.6 296.9 L381.4 300.2 L385.2 303.4" fill="none" stroke="#000" stroke-width="1.3"/></g>
<path d="M65.3 69.0 H193.7 V15.65" fill="none" stroke="#000" stroke-width="1.3"/>
<path d="M65.3 69.0 L73.6 187.3 M193.7 69.0 L252.2 187.3" fill="none" stroke="#000" stroke-width="1.2"/>
<rect x="73.6" y="187.3" width="178.6" height="142.1" fill="#fff" stroke="none"/>
<g clip-path="url(#ci)"><path d="M89.9 213.3 L90.8 213.6 L91.7 214.3 L92.6 212.6 L93.5 211.7 L94.4 212.5 L95.3 214.1 L96.1 214.6 L97.0 212.7 L97.9 213.8 L98.8 212.9 L99.7 212.7 L100.6 210.7 L101.5 213.0 L102.4 213.8 L103.3 212.4 L104.2 210.7 L105.1 210.6 L106.0 211.1 L106.9 211.8 L107.8 212.2 L108.7 209.4 L109.5 209.3 L110.4 211.5 L111.3 209.0 L112.2 210.5 L113.1 209.6 L114.0 210.3 L114.9 209.4 L115.8 208.9 L116.7 209.5 L129.4 206.8 L140.6 204.9 L151.7 203.6 L162.9 202.9 L174.1 202.9 L185.2 202.9 L188.6 203.0 L196.4 203.5 L207.5 204.6 L218.7 206.7 L229.9 209.5 L241.0 212.5 L252.2 216.3" fill="none" stroke="#d8282b" stroke-width="1.5"/><g fill="#d8282b"><circle cx="89.9" cy="213.3" r="3.25"/><circle cx="90.8" cy="213.6" r="3.25"/><circle cx="91.7" cy="214.3" r="3.25"/><circle cx="92.6" cy="212.6" r="3.25"/><circle cx="93.5" cy="211.7" r="3.25"/><circle cx="94.4" cy="212.5" r="3.25"/><circle cx="95.3" cy="214.1" r="3.25"/><circle cx="96.1" cy="214.6" r="3.25"/><circle cx="97.0" cy="212.7" r="3.25"/><circle cx="97.9" cy="213.8" r="3.25"/><circle cx="98.8" cy="212.9" r="3.25"/><circle cx="99.7" cy="212.7" r="3.25"/><circle cx="100.6" cy="210.7" r="3.25"/><circle cx="101.5" cy="213.0" r="3.25"/><circle cx="102.4" cy="213.8" r="3.25"/><circle cx="103.3" cy="212.4" r="3.25"/><circle cx="104.2" cy="210.7" r="3.25"/><circle cx="105.1" cy="210.6" r="3.25"/><circle cx="106.0" cy="211.1" r="3.25"/><circle cx="106.9" cy="211.8" r="3.25"/><circle cx="107.8" cy="212.2" r="3.25"/><circle cx="108.7" cy="209.4" r="3.25"/><circle cx="109.5" cy="209.3" r="3.25"/><circle cx="110.4" cy="211.5" r="3.25"/><circle cx="111.3" cy="209.0" r="3.25"/><circle cx="112.2" cy="210.5" r="3.25"/><circle cx="113.1" cy="209.6" r="3.25"/><circle cx="114.0" cy="210.3" r="3.25"/><circle cx="114.9" cy="209.4" r="3.25"/><circle cx="115.8" cy="208.9" r="3.25"/><circle cx="116.7" cy="209.5" r="3.25"/><circle cx="129.4" cy="206.8" r="3.25"/><circle cx="140.6" cy="204.9" r="3.25"/><circle cx="151.7" cy="203.6" r="3.25"/><circle cx="162.9" cy="202.9" r="3.25"/><circle cx="174.1" cy="202.9" r="3.25"/><circle cx="185.2" cy="202.9" r="3.25"/><circle cx="188.6" cy="203.0" r="3.25"/><circle cx="196.4" cy="203.5" r="3.25"/><circle cx="207.5" cy="204.6" r="3.25"/><circle cx="218.7" cy="206.7" r="3.25"/><circle cx="229.9" cy="209.5" r="3.25"/><circle cx="241.0" cy="212.5" r="3.25"/><circle cx="252.2" cy="216.3" r="3.25"/></g><path d="M89.9 217.3 L90.8 213.7 L91.7 214.0 L92.6 213.2 L93.5 215.3 L94.4 214.7 L95.3 214.0 L96.1 213.3 L97.0 214.2 L97.9 213.9 L98.8 213.6 L99.7 214.3 L100.6 213.5 L101.5 214.6 L102.4 213.1 L103.3 214.2 L104.2 214.3 L105.1 212.5 L106.0 213.0 L106.9 213.2 L107.8 212.0 L108.7 212.0 L109.5 211.1 L110.4 212.2 L111.3 211.8 L112.2 212.7 L113.1 210.4 L114.0 212.3 L114.9 210.5 L115.8 212.4 L116.7 211.8 L129.4 210.7 L140.6 210.3 L151.7 210.3 L162.9 210.3 L174.1 210.8 L185.2 211.7 L207.5 214.6 L218.7 217.1 L229.9 220.6 L241.0 224.8 L252.2 230.2" fill="none" stroke="#e8792f" stroke-width="1.5"/><g fill="#e8792f"><circle cx="89.9" cy="217.3" r="3.25"/><circle cx="90.8" cy="213.7" r="3.25"/><circle cx="91.7" cy="214.0" r="3.25"/><circle cx="92.6" cy="213.2" r="3.25"/><circle cx="93.5" cy="215.3" r="3.25"/><circle cx="94.4" cy="214.7" r="3.25"/><circle cx="95.3" cy="214.0" r="3.25"/><circle cx="96.1" cy="213.3" r="3.25"/><circle cx="97.0" cy="214.2" r="3.25"/><circle cx="97.9" cy="213.9" r="3.25"/><circle cx="98.8" cy="213.6" r="3.25"/><circle cx="99.7" cy="214.3" r="3.25"/><circle cx="100.6" cy="213.5" r="3.25"/><circle cx="101.5" cy="214.6" r="3.25"/><circle cx="102.4" cy="213.1" r="3.25"/><circle cx="103.3" cy="214.2" r="3.25"/><circle cx="104.2" cy="214.3" r="3.25"/><circle cx="105.1" cy="212.5" r="3.25"/><circle cx="106.0" cy="213.0" r="3.25"/><circle cx="106.9" cy="213.2" r="3.25"/><circle cx="107.8" cy="212.0" r="3.25"/><circle cx="108.7" cy="212.0" r="3.25"/><circle cx="109.5" cy="211.1" r="3.25"/><circle cx="110.4" cy="212.2" r="3.25"/><circle cx="111.3" cy="211.8" r="3.25"/><circle cx="112.2" cy="212.7" r="3.25"/><circle cx="113.1" cy="210.4" r="3.25"/><circle cx="114.0" cy="212.3" r="3.25"/><circle cx="114.9" cy="210.5" r="3.25"/><circle cx="115.8" cy="212.4" r="3.25"/><circle cx="116.7" cy="211.8" r="3.25"/><circle cx="129.4" cy="210.7" r="3.25"/><circle cx="140.6" cy="210.3" r="3.25"/><circle cx="151.7" cy="210.3" r="3.25"/><circle cx="162.9" cy="210.3" r="3.25"/><circle cx="174.1" cy="210.8" r="3.25"/><circle cx="185.2" cy="211.7" r="3.25"/><circle cx="207.5" cy="214.6" r="3.25"/><circle cx="218.7" cy="217.1" r="3.25"/><circle cx="229.9" cy="220.6" r="3.25"/><circle cx="241.0" cy="224.8" r="3.25"/><circle cx="252.2" cy="230.2" r="3.25"/></g><path d="M89.9 217.9 L90.8 218.2 L91.7 218.4 L92.6 218.1 L93.5 218.2 L94.4 219.0 L95.3 216.9 L96.1 217.5 L97.0 217.1 L97.9 216.5 L98.8 216.8 L99.7 217.6 L100.6 216.5 L101.5 216.0 L102.4 216.7 L103.3 217.0 L104.2 218.2 L105.1 217.7 L106.0 215.5 L106.9 216.5 L107.8 215.6 L108.7 215.5 L109.5 215.5 L110.4 215.3 L111.3 216.4 L112.2 213.4 L113.1 215.2 L114.0 217.3 L114.9 217.2 L115.8 215.5 L116.7 217.2 L129.4 215.7 L140.6 215.7 L151.7 215.8 L162.9 216.0 L174.1 216.9 L185.2 218.6 L207.5 223.1 L218.7 226.4 L229.9 230.8 L241.0 236.7 L252.2 244.1" fill="none" stroke="#e6ae38" stroke-width="1.5"/><g fill="#e6ae38"><circle cx="89.9" cy="217.9" r="3.25"/><circle cx="90.8" cy="218.2" r="3.25"/><circle cx="91.7" cy="218.4" r="3.25"/><circle cx="92.6" cy="218.1" r="3.25"/><circle cx="93.5" cy="218.2" r="3.25"/><circle cx="94.4" cy="219.0" r="3.25"/><circle cx="95.3" cy="216.9" r="3.25"/><circle cx="96.1" cy="217.5" r="3.25"/><circle cx="97.0" cy="217.1" r="3.25"/><circle cx="97.9" cy="216.5" r="3.25"/><circle cx="98.8" cy="216.8" r="3.25"/><circle cx="99.7" cy="217.6" r="3.25"/><circle cx="100.6" cy="216.5" r="3.25"/><circle cx="101.5" cy="216.0" r="3.25"/><circle cx="102.4" cy="216.7" r="3.25"/><circle cx="103.3" cy="217.0" r="3.25"/><circle cx="104.2" cy="218.2" r="3.25"/><circle cx="105.1" cy="217.7" r="3.25"/><circle cx="106.0" cy="215.5" r="3.25"/><circle cx="106.9" cy="216.5" r="3.25"/><circle cx="107.8" cy="215.6" r="3.25"/><circle cx="108.7" cy="215.5" r="3.25"/><circle cx="109.5" cy="215.5" r="3.25"/><circle cx="110.4" cy="215.3" r="3.25"/><circle cx="111.3" cy="216.4" r="3.25"/><circle cx="112.2" cy="213.4" r="3.25"/><circle cx="113.1" cy="215.2" r="3.25"/><circle cx="114.0" cy="217.3" r="3.25"/><circle cx="114.9" cy="217.2" r="3.25"/><circle cx="115.8" cy="215.5" r="3.25"/><circle cx="116.7" cy="217.2" r="3.25"/><circle cx="129.4" cy="215.7" r="3.25"/><circle cx="140.6" cy="215.7" r="3.25"/><circle cx="151.7" cy="215.8" r="3.25"/><circle cx="162.9" cy="216.0" r="3.25"/><circle cx="174.1" cy="216.9" r="3.25"/><circle cx="185.2" cy="218.6" r="3.25"/><circle cx="207.5" cy="223.1" r="3.25"/><circle cx="218.7" cy="226.4" r="3.25"/><circle cx="229.9" cy="230.8" r="3.25"/><circle cx="241.0" cy="236.7" r="3.25"/><circle cx="252.2" cy="244.1" r="3.25"/></g><path d="M89.9 232.5 L90.8 232.3 L91.7 232.8 L92.6 233.4 L93.5 231.8 L94.4 232.3 L95.3 232.2 L96.1 232.7 L97.0 231.1 L97.9 231.4 L98.8 230.8 L99.7 231.5 L100.6 232.2 L101.5 232.6 L102.4 234.7 L103.3 231.6 L104.2 231.0 L105.1 232.3 L106.0 233.0 L106.9 231.7 L107.8 233.1 L108.7 231.5 L109.5 233.9 L110.4 232.0 L111.3 232.9 L112.2 232.3 L113.1 233.2 L114.0 232.3 L114.9 231.3 L115.8 231.9 L116.7 233.3 L129.4 234.0 L140.6 236.2 L151.7 238.9 L162.9 242.2 L174.1 245.5 L185.2 249.3 L207.5 258.9 L218.7 265.8 L229.9 274.0 L241.0 282.9 L252.2 293.6" fill="none" stroke="#adc045" stroke-width="1.5"/><g fill="#adc045"><circle cx="89.9" cy="232.5" r="3.25"/><circle cx="90.8" cy="232.3" r="3.25"/><circle cx="91.7" cy="232.8" r="3.25"/><circle cx="92.6" cy="233.4" r="3.25"/><circle cx="93.5" cy="231.8" r="3.25"/><circle cx="94.4" cy="232.3" r="3.25"/><circle cx="95.3" cy="232.2" r="3.25"/><circle cx="96.1" cy="232.7" r="3.25"/><circle cx="97.0" cy="231.1" r="3.25"/><circle cx="97.9" cy="231.4" r="3.25"/><circle cx="98.8" cy="230.8" r="3.25"/><circle cx="99.7" cy="231.5" r="3.25"/><circle cx="100.6" cy="232.2" r="3.25"/><circle cx="101.5" cy="232.6" r="3.25"/><circle cx="102.4" cy="234.7" r="3.25"/><circle cx="103.3" cy="231.6" r="3.25"/><circle cx="104.2" cy="231.0" r="3.25"/><circle cx="105.1" cy="232.3" r="3.25"/><circle cx="106.0" cy="233.0" r="3.25"/><circle cx="106.9" cy="231.7" r="3.25"/><circle cx="107.8" cy="233.1" r="3.25"/><circle cx="108.7" cy="231.5" r="3.25"/><circle cx="109.5" cy="233.9" r="3.25"/><circle cx="110.4" cy="232.0" r="3.25"/><circle cx="111.3" cy="232.9" r="3.25"/><circle cx="112.2" cy="232.3" r="3.25"/><circle cx="113.1" cy="233.2" r="3.25"/><circle cx="114.0" cy="232.3" r="3.25"/><circle cx="114.9" cy="231.3" r="3.25"/><circle cx="115.8" cy="231.9" r="3.25"/><circle cx="116.7" cy="233.3" r="3.25"/><circle cx="129.4" cy="234.0" r="3.25"/><circle cx="140.6" cy="236.2" r="3.25"/><circle cx="151.7" cy="238.9" r="3.25"/><circle cx="162.9" cy="242.2" r="3.25"/><circle cx="174.1" cy="245.5" r="3.25"/><circle cx="185.2" cy="249.3" r="3.25"/><circle cx="207.5" cy="258.9" r="3.25"/><circle cx="218.7" cy="265.8" r="3.25"/><circle cx="229.9" cy="274.0" r="3.25"/><circle cx="241.0" cy="282.9" r="3.25"/><circle cx="252.2" cy="293.6" r="3.25"/></g><path d="M89.9 239.8 L90.8 240.3 L91.7 242.2 L92.6 241.5 L93.5 239.8 L94.4 241.3 L95.3 241.1 L96.1 241.4 L97.0 242.5 L97.9 242.0 L98.8 241.9 L99.7 240.0 L100.6 240.9 L101.5 241.9 L102.4 241.4 L103.3 241.8 L104.2 241.7 L105.1 241.1 L106.0 242.5 L106.9 240.6 L107.8 240.3 L108.7 241.6 L109.5 241.9 L110.4 242.6 L111.3 242.6 L112.2 243.0 L113.1 241.8 L114.0 243.3 L114.9 241.8 L115.8 242.2 L116.7 242.9 L129.4 246.0 L140.6 250.4 L151.7 254.0 L162.9 258.1 L174.1 263.1 L185.2 268.9 L207.5 281.9 L218.7 290.0 L229.9 299.3 L241.0 309.9 L252.2 322.3" fill="none" stroke="#72b86c" stroke-width="1.5"/><g fill="#72b86c"><circle cx="89.9" cy="239.8" r="3.25"/><circle cx="90.8" cy="240.3" r="3.25"/><circle cx="91.7" cy="242.2" r="3.25"/><circle cx="92.6" cy="241.5" r="3.25"/><circle cx="93.5" cy="239.8" r="3.25"/><circle cx="94.4" cy="241.3" r="3.25"/><circle cx="95.3" cy="241.1" r="3.25"/><circle cx="96.1" cy="241.4" r="3.25"/><circle cx="97.0" cy="242.5" r="3.25"/><circle cx="97.9" cy="242.0" r="3.25"/><circle cx="98.8" cy="241.9" r="3.25"/><circle cx="99.7" cy="240.0" r="3.25"/><circle cx="100.6" cy="240.9" r="3.25"/><circle cx="101.5" cy="241.9" r="3.25"/><circle cx="102.4" cy="241.4" r="3.25"/><circle cx="103.3" cy="241.8" r="3.25"/><circle cx="104.2" cy="241.7" r="3.25"/><circle cx="105.1" cy="241.1" r="3.25"/><circle cx="106.0" cy="242.5" r="3.25"/><circle cx="106.9" cy="240.6" r="3.25"/><circle cx="107.8" cy="240.3" r="3.25"/><circle cx="108.7" cy="241.6" r="3.25"/><circle cx="109.5" cy="241.9" r="3.25"/><circle cx="110.4" cy="242.6" r="3.25"/><circle cx="111.3" cy="242.6" r="3.25"/><circle cx="112.2" cy="243.0" r="3.25"/><circle cx="113.1" cy="241.8" r="3.25"/><circle cx="114.0" cy="243.3" r="3.25"/><circle cx="114.9" cy="241.8" r="3.25"/><circle cx="115.8" cy="242.2" r="3.25"/><circle cx="116.7" cy="242.9" r="3.25"/><circle cx="129.4" cy="246.0" r="3.25"/><circle cx="140.6" cy="250.4" r="3.25"/><circle cx="151.7" cy="254.0" r="3.25"/><circle cx="162.9" cy="258.1" r="3.25"/><circle cx="174.1" cy="263.1" r="3.25"/><circle cx="185.2" cy="268.9" r="3.25"/><circle cx="207.5" cy="281.9" r="3.25"/><circle cx="218.7" cy="290.0" r="3.25"/><circle cx="229.9" cy="299.3" r="3.25"/><circle cx="241.0" cy="309.9" r="3.25"/><circle cx="252.2" cy="322.3" r="3.25"/></g><path d="M89.9 245.3 L90.8 246.6 L91.7 246.5 L92.6 248.6 L93.5 247.3 L94.4 246.4 L95.3 248.0 L96.1 247.6 L97.0 247.2 L97.9 247.0 L98.8 247.0 L99.7 246.8 L100.6 248.1 L101.5 247.0 L102.4 248.1 L103.3 246.9 L104.2 248.8 L105.1 246.5 L106.0 248.9 L106.9 249.3 L107.8 246.8 L108.7 248.0 L109.5 248.4 L110.4 249.1 L111.3 249.4 L112.2 249.2 L113.1 248.9 L114.0 250.7 L114.9 249.0 L115.8 250.4 L116.7 249.7 L129.4 256.6 L140.6 261.2 L151.7 266.5 L162.9 272.3 L174.1 278.0 L185.2 284.2 L207.5 299.3 L218.7 308.5 L229.9 318.9 L241.0 330.4 L252.2 343.6" fill="none" stroke="#52a3a7" stroke-width="1.5"/><g fill="#52a3a7"><circle cx="89.9" cy="245.3" r="3.25"/><circle cx="90.8" cy="246.6" r="3.25"/><circle cx="91.7" cy="246.5" r="3.25"/><circle cx="92.6" cy="248.6" r="3.25"/><circle cx="93.5" cy="247.3" r="3.25"/><circle cx="94.4" cy="246.4" r="3.25"/><circle cx="95.3" cy="248.0" r="3.25"/><circle cx="96.1" cy="247.6" r="3.25"/><circle cx="97.0" cy="247.2" r="3.25"/><circle cx="97.9" cy="247.0" r="3.25"/><circle cx="98.8" cy="247.0" r="3.25"/><circle cx="99.7" cy="246.8" r="3.25"/><circle cx="100.6" cy="248.1" r="3.25"/><circle cx="101.5" cy="247.0" r="3.25"/><circle cx="102.4" cy="248.1" r="3.25"/><circle cx="103.3" cy="246.9" r="3.25"/><circle cx="104.2" cy="248.8" r="3.25"/><circle cx="105.1" cy="246.5" r="3.25"/><circle cx="106.0" cy="248.9" r="3.25"/><circle cx="106.9" cy="249.3" r="3.25"/><circle cx="107.8" cy="246.8" r="3.25"/><circle cx="108.7" cy="248.0" r="3.25"/><circle cx="109.5" cy="248.4" r="3.25"/><circle cx="110.4" cy="249.1" r="3.25"/><circle cx="111.3" cy="249.4" r="3.25"/><circle cx="112.2" cy="249.2" r="3.25"/><circle cx="113.1" cy="248.9" r="3.25"/><circle cx="114.0" cy="250.7" r="3.25"/><circle cx="114.9" cy="249.0" r="3.25"/><circle cx="115.8" cy="250.4" r="3.25"/><circle cx="116.7" cy="249.7" r="3.25"/><circle cx="129.4" cy="256.6" r="3.25"/><circle cx="140.6" cy="261.2" r="3.25"/><circle cx="151.7" cy="266.5" r="3.25"/><circle cx="162.9" cy="272.3" r="3.25"/><circle cx="174.1" cy="278.0" r="3.25"/><circle cx="185.2" cy="284.2" r="3.25"/><circle cx="207.5" cy="299.3" r="3.25"/><circle cx="218.7" cy="308.5" r="3.25"/><circle cx="229.9" cy="318.9" r="3.25"/><circle cx="241.0" cy="330.4" r="3.25"/><circle cx="252.2" cy="343.6" r="3.25"/></g><path d="M90.3 269.4 L91.2 268.2 L92.1 268.3 L93.0 268.2 L93.9 269.5 L94.8 269.2 L95.7 269.6 L96.6 270.7 L97.5 271.0 L98.4 270.3 L99.3 271.1 L100.2 270.7 L101.1 274.0 L102.0 272.8 L102.8 274.1 L103.7 273.4 L104.6 275.8 L105.5 275.2 L106.4 276.3 L107.3 276.2 L108.2 277.5 L109.1 274.3 L110.0 277.5 L110.9 278.2 L111.8 279.5 L112.7 280.1 L113.6 278.8 L114.5 280.2 L115.3 281.9 L116.2 281.2 L117.1 281.5 L118.0 283.0 L118.9 283.4 L129.4 290.6 L140.6 299.3 L151.7 308.7 L162.9 318.0 L174.1 326.6 L185.2 335.9 L207.5 357.8 L218.7 369.2 L229.9 382.5 L241.0 395.3 L252.2 411.0" fill="none" stroke="#3f79d4" stroke-width="1.5"/><g fill="#3f79d4"><circle cx="90.3" cy="269.4" r="3.25"/><circle cx="91.2" cy="268.2" r="3.25"/><circle cx="92.1" cy="268.3" r="3.25"/><circle cx="93.0" cy="268.2" r="3.25"/><circle cx="93.9" cy="269.5" r="3.25"/><circle cx="94.8" cy="269.2" r="3.25"/><circle cx="95.7" cy="269.6" r="3.25"/><circle cx="96.6" cy="270.7" r="3.25"/><circle cx="97.5" cy="271.0" r="3.25"/><circle cx="98.4" cy="270.3" r="3.25"/><circle cx="99.3" cy="271.1" r="3.25"/><circle cx="100.2" cy="270.7" r="3.25"/><circle cx="101.1" cy="274.0" r="3.25"/><circle cx="102.0" cy="272.8" r="3.25"/><circle cx="102.8" cy="274.1" r="3.25"/><circle cx="103.7" cy="273.4" r="3.25"/><circle cx="104.6" cy="275.8" r="3.25"/><circle cx="105.5" cy="275.2" r="3.25"/><circle cx="106.4" cy="276.3" r="3.25"/><circle cx="107.3" cy="276.2" r="3.25"/><circle cx="108.2" cy="277.5" r="3.25"/><circle cx="109.1" cy="274.3" r="3.25"/><circle cx="110.0" cy="277.5" r="3.25"/><circle cx="110.9" cy="278.2" r="3.25"/><circle cx="111.8" cy="279.5" r="3.25"/><circle cx="112.7" cy="280.1" r="3.25"/><circle cx="113.6" cy="278.8" r="3.25"/><circle cx="114.5" cy="280.2" r="3.25"/><circle cx="115.3" cy="281.9" r="3.25"/><circle cx="116.2" cy="281.2" r="3.25"/><circle cx="117.1" cy="281.5" r="3.25"/><circle cx="118.0" cy="283.0" r="3.25"/><circle cx="118.9" cy="283.4" r="3.25"/><circle cx="129.4" cy="290.6" r="3.25"/><circle cx="140.6" cy="299.3" r="3.25"/><circle cx="151.7" cy="308.7" r="3.25"/><circle cx="162.9" cy="318.0" r="3.25"/><circle cx="174.1" cy="326.6" r="3.25"/><circle cx="185.2" cy="335.9" r="3.25"/><circle cx="207.5" cy="357.8" r="3.25"/><circle cx="218.7" cy="369.2" r="3.25"/><circle cx="229.9" cy="382.5" r="3.25"/><circle cx="241.0" cy="395.3" r="3.25"/><circle cx="252.2" cy="411.0" r="3.25"/></g><path d="M95.9 282.2 L101.5 285.2 L107.1 288.6 L112.7 292.2 L118.2 296.1 L123.8 300.5 L129.4 305.4 L135.0 310.5 L140.6 315.5 L146.2 320.3 L151.7 325.2 L157.3 330.1 L162.9 335.1 L168.5 340.2 L174.1 345.5 L179.6 350.8 L185.2 356.4 L190.8 362.2 L196.4 368.2 L202.0 374.3 L207.5 380.6 L213.1 386.7 L218.7 392.9 L224.3 399.3 L229.9 406.1 L235.5 413.3 L241.0 420.8 L246.6 428.8 L252.2 437.4 L257.8 446.8" fill="none" stroke="#3a2ecb" stroke-width="1.5"/><g fill="#3a2ecb"><circle cx="95.9" cy="282.2" r="3.25"/><circle cx="101.5" cy="285.2" r="3.25"/><circle cx="107.1" cy="288.6" r="3.25"/><circle cx="112.7" cy="292.2" r="3.25"/><circle cx="118.2" cy="296.1" r="3.25"/><circle cx="123.8" cy="300.5" r="3.25"/><circle cx="129.4" cy="305.4" r="3.25"/><circle cx="135.0" cy="310.5" r="3.25"/><circle cx="140.6" cy="315.5" r="3.25"/><circle cx="146.2" cy="320.3" r="3.25"/><circle cx="151.7" cy="325.2" r="3.25"/><circle cx="157.3" cy="330.1" r="3.25"/><circle cx="162.9" cy="335.1" r="3.25"/><circle cx="168.5" cy="340.2" r="3.25"/><circle cx="174.1" cy="345.5" r="3.25"/><circle cx="179.6" cy="350.8" r="3.25"/><circle cx="185.2" cy="356.4" r="3.25"/><circle cx="190.8" cy="362.2" r="3.25"/><circle cx="196.4" cy="368.2" r="3.25"/><circle cx="202.0" cy="374.3" r="3.25"/><circle cx="207.5" cy="380.6" r="3.25"/><circle cx="213.1" cy="386.7" r="3.25"/><circle cx="218.7" cy="392.9" r="3.25"/><circle cx="224.3" cy="399.3" r="3.25"/><circle cx="229.9" cy="406.1" r="3.25"/><circle cx="235.5" cy="413.3" r="3.25"/><circle cx="241.0" cy="420.8" r="3.25"/><circle cx="246.6" cy="428.8" r="3.25"/><circle cx="252.2" cy="437.4" r="3.25"/><circle cx="257.8" cy="446.8" r="3.25"/></g><path d="M98.2 313.0 L103.7 318.9 L109.3 324.9 L114.9 331.1 L120.5 337.3 L126.1 343.7 L131.6 350.2 L137.2 356.7 L142.8 363.3 L148.4 369.9 L154.0 376.6 L159.6 383.3 L165.1 390.1 L170.7 396.9 L176.3 403.8 L181.9 410.7 L187.5 417.8 L193.0 425.0 L198.6 432.2 L204.2 439.2 L209.8 446.0 L215.4 452.2 L220.9 458.3 L226.5 464.7 L232.1 471.5 L237.7 478.9 L243.3 486.6 L248.9 494.5 L254.4 502.5" fill="none" stroke="#6e1a86" stroke-width="1.5"/><g fill="#6e1a86"><circle cx="98.2" cy="313.0" r="3.25"/><circle cx="103.7" cy="318.9" r="3.25"/><circle cx="109.3" cy="324.9" r="3.25"/><circle cx="114.9" cy="331.1" r="3.25"/><circle cx="120.5" cy="337.3" r="3.25"/><circle cx="126.1" cy="343.7" r="3.25"/><circle cx="131.6" cy="350.2" r="3.25"/><circle cx="137.2" cy="356.7" r="3.25"/><circle cx="142.8" cy="363.3" r="3.25"/><circle cx="148.4" cy="369.9" r="3.25"/><circle cx="154.0" cy="376.6" r="3.25"/><circle cx="159.6" cy="383.3" r="3.25"/><circle cx="165.1" cy="390.1" r="3.25"/><circle cx="170.7" cy="396.9" r="3.25"/><circle cx="176.3" cy="403.8" r="3.25"/><circle cx="181.9" cy="410.7" r="3.25"/><circle cx="187.5" cy="417.8" r="3.25"/><circle cx="193.0" cy="425.0" r="3.25"/><circle cx="198.6" cy="432.2" r="3.25"/><circle cx="204.2" cy="439.2" r="3.25"/><circle cx="209.8" cy="446.0" r="3.25"/><circle cx="215.4" cy="452.2" r="3.25"/><circle cx="220.9" cy="458.3" r="3.25"/><circle cx="226.5" cy="464.7" r="3.25"/><circle cx="232.1" cy="471.5" r="3.25"/><circle cx="237.7" cy="478.9" r="3.25"/><circle cx="243.3" cy="486.6" r="3.25"/><circle cx="248.9" cy="494.5" r="3.25"/><circle cx="254.4" cy="502.5" r="3.25"/></g></g>
<g clip-path="url(#ci)"><path d="M98.2 313.0 L99.0 313.8 L99.8 314.7 L100.6 315.6 L101.4 316.4 L102.3 317.3 L103.1 318.2 L103.9 319.1 L104.7 320.0 L105.5 320.8 L106.4 321.7 L107.2 322.6 L108.0 323.5 L108.8 324.4 L109.6 325.3 L110.5 326.2 L111.3 327.1 L112.1 328.0 L112.9 328.9 L113.7 329.8 L114.5 330.7 L115.4 331.6 L116.2 332.5 L117.0 333.4 L117.8 334.3 L118.6 335.2 L119.5 336.2 L120.3 337.1 L121.1 338.0 L121.9 338.9 L122.7 339.9 L123.6 340.8 L124.4 341.8 L125.2 342.7 L126.0 343.6 L126.8 344.6 L127.7 345.5 L128.5 346.5 L129.3 347.4 L130.1 348.4 L130.9 349.3 L131.8 350.3 L132.6 351.3 L133.4 352.2 L134.2 353.2 L135.0 354.1 L135.9 355.1 L136.7 356.1 L137.5 357.0 L138.3 358.0 L139.1 359.0 L140.0 359.9 L140.8 360.9 L141.6 361.9 L142.4 362.8 L143.2 363.8 L144.1 364.8 L144.9 365.7 L145.7 366.7 L146.5 367.7 L147.3 368.7 L148.1 369.6 L149.0 370.6 L149.8 371.6 L150.6 372.6 L151.4 373.5 L152.2 374.5 L153.1 375.5 L153.9 376.5 L154.7 377.5 L155.5 378.5 L156.3 379.4 L157.2 380.4 L158.0 381.4 L158.8 382.4 L159.6 383.4 L160.4 384.4 L161.3 385.4 L162.1 386.4 L162.9 387.4" fill="none" stroke="#000" stroke-width="1.3"/></g>
<rect x="73.6" y="187.3" width="178.6" height="142.1" fill="none" stroke="#333" stroke-width="1.1"/>
<line x1="169.3" y1="40" x2="169.3" y2="98" stroke="#000" stroke-width="1.3"/>
<path d="M169.3 23.0 L175.20000000000002 43.5 L169.3 41.0 L163.4 43.5 Z" fill="#000"/>
<path d="M169.3 115.8 L175.20000000000002 95.3 L169.3 97.8 L163.4 95.3 Z" fill="#000"/>
<rect x="65.3" y="15.65" width="401.1" height="320.35" fill="none" stroke="#000" stroke-width="1.5"/>
<path d="M81.3 336.0 v-3 M81.3 15.65 v3 M97.4 336.0 v-3 M97.4 15.65 v3 M113.4 336.0 v-3 M113.4 15.65 v3 M129.5 336.0 v-3 M129.5 15.65 v3 M145.5 336.0 v-5 M145.5 15.65 v5 M161.6 336.0 v-3 M161.6 15.65 v3 M177.6 336.0 v-3 M177.6 15.65 v3 M193.7 336.0 v-3 M193.7 15.65 v3 M209.7 336.0 v-3 M209.7 15.65 v3 M225.7 336.0 v-5 M225.7 15.65 v5 M241.8 336.0 v-3 M241.8 15.65 v3 M257.8 336.0 v-3 M257.8 15.65 v3 M273.9 336.0 v-3 M273.9 15.65 v3 M289.9 336.0 v-3 M289.9 15.65 v3 M306.0 336.0 v-5 M306.0 15.65 v5 M322.0 336.0 v-3 M322.0 15.65 v3 M338.0 336.0 v-3 M338.0 15.65 v3 M354.1 336.0 v-3 M354.1 15.65 v3 M370.1 336.0 v-3 M370.1 15.65 v3 M386.2 336.0 v-5 M386.2 15.65 v5 M402.2 336.0 v-3 M402.2 15.65 v3 M418.3 336.0 v-3 M418.3 15.65 v3 M434.3 336.0 v-3 M434.3 15.65 v3 M450.4 336.0 v-3 M450.4 15.65 v3 M65.3 325.3 h3 M466.4 325.3 h-3 M65.3 314.6 h3 M466.4 314.6 h-3 M65.3 304.0 h3 M466.4 304.0 h-3 M65.3 293.3 h3 M466.4 293.3 h-3 M65.3 282.6 h5 M466.4 282.6 h-5 M65.3 271.9 h3 M466.4 271.9 h-3 M65.3 261.3 h3 M466.4 261.3 h-3 M65.3 250.6 h3 M466.4 250.6 h-3 M65.3 239.9 h3 M466.4 239.9 h-3 M65.3 229.2 h5 M466.4 229.2 h-5 M65.3 218.5 h3 M466.4 218.5 h-3 M65.3 207.9 h3 M466.4 207.9 h-3 M65.3 197.2 h3 M466.4 197.2 h-3 M65.3 186.5 h3 M466.4 186.5 h-3 M65.3 175.8 h5 M466.4 175.8 h-5 M65.3 165.1 h3 M466.4 165.1 h-3 M65.3 154.5 h3 M466.4 154.5 h-3 M65.3 143.8 h3 M466.4 143.8 h-3 M65.3 133.1 h3 M466.4 133.1 h-3 M65.3 122.4 h5 M466.4 122.4 h-5 M65.3 111.8 h3 M466.4 111.8 h-3 M65.3 101.1 h3 M466.4 101.1 h-3 M65.3 90.4 h3 M466.4 90.4 h-3 M65.3 79.7 h3 M466.4 79.7 h-3 M65.3 69.0 h5 M466.4 69.0 h-5 M65.3 58.4 h3 M466.4 58.4 h-3 M65.3 47.7 h3 M466.4 47.7 h-3 M65.3 37.0 h3 M466.4 37.0 h-3 M65.3 26.3 h3 M466.4 26.3 h-3" stroke="#000" stroke-width="1.2" fill="none"/>
<text x="57" y="342.0" text-anchor="end" font-size="17.5">0</text>
<text x="57" y="288.5" text-anchor="end" font-size="17.5">5</text>
<text x="57" y="234.9" text-anchor="end" font-size="17.5">10</text>
<text x="57" y="181.4" text-anchor="end" font-size="17.5">15</text>
<text x="57" y="127.8" text-anchor="end" font-size="17.5">20</text>
<text x="57" y="74.3" text-anchor="end" font-size="17.5">25</text>
<text x="57" y="20.7" text-anchor="end" font-size="17.5">30</text>
<text x="65.3" y="360.3" text-anchor="middle" font-size="17.5">0.0</text>
<text x="145.5" y="360.3" text-anchor="middle" font-size="17.5">0.5</text>
<text x="225.7" y="360.3" text-anchor="middle" font-size="17.5">1.0</text>
<text x="306.0" y="360.3" text-anchor="middle" font-size="17.5">1.5</text>
<text x="386.2" y="360.3" text-anchor="middle" font-size="17.5">2.0</text>
<text x="466.4" y="360.3" text-anchor="middle" font-size="17.5">2.5</text>
<text x="276.2" y="384.5" text-anchor="middle" font-size="17.5">Temperature (K)</text>
<text id="ylab_a" transform="translate(24.5,171.3) rotate(-90)" text-anchor="middle" textLength="187" lengthAdjust="spacing" font-size="17.5">1/<tspan style="font-family:&quot;Liberation Serif&quot;,serif;font-style:italic">δ</tspan><tspan font-size="12" dy="-7">2</tspan><tspan dy="7"> (</tspan><tspan style="font-family:&quot;Liberation Serif&quot;,serif;font-style:italic">ω</tspan>) ≡ <tspan style="font-family:&quot;Liberation Serif&quot;,serif;font-style:italic">ωμ</tspan><tspan font-size="12" dy="4">0</tspan><tspan dy="-4" style="font-family:&quot;Liberation Serif&quot;,serif;font-style:italic">σ</tspan><tspan font-size="12" dy="4">2</tspan><tspan dy="-4"> (μm</tspan><tspan font-size="12" dy="-7">−2</tspan><tspan dy="7">)</tspan></text>
<text x="5" y="19.3" font-size="32" font-weight="bold">a</text>
<text x="385.0" y="37.2" font-size="17.5"><tspan font-style="italic">f</tspan> (GHz)</text>
<circle cx="389.2" cy="53.4" r="2.9" fill="#6e1a86"/>
<text x="408.8" y="59.6" font-size="17.5">0.13</text>
<line x1="376" y1="74.3" x2="402" y2="74.3" stroke="#3a2ecb" stroke-width="1.2"/>
<circle cx="389.2" cy="74.3" r="2.9" fill="#3a2ecb"/>
<text x="408.8" y="80.2" font-size="17.5">2.25</text>
<line x1="376" y1="95.2" x2="402" y2="95.2" stroke="#3f79d4" stroke-width="1.2"/>
<circle cx="389.2" cy="95.2" r="2.9" fill="#3f79d4"/>
<text x="408.8" y="100.7" font-size="17.5">2.91</text>
<line x1="376" y1="116.1" x2="402" y2="116.1" stroke="#52a3a7" stroke-width="1.2"/>
<circle cx="389.2" cy="116.1" r="2.9" fill="#52a3a7"/>
<text x="408.8" y="121.2" font-size="17.5">4.82</text>
<line x1="376" y1="137.0" x2="402" y2="137.0" stroke="#72b86c" stroke-width="1.2"/>
<circle cx="389.2" cy="137.0" r="2.9" fill="#72b86c"/>
<text x="408.8" y="141.8" font-size="17.5">5.57</text>
<line x1="376" y1="157.9" x2="402" y2="157.9" stroke="#adc045" stroke-width="1.2"/>
<circle cx="389.2" cy="157.9" r="2.9" fill="#adc045"/>
<text x="408.8" y="162.3" font-size="17.5">6.94</text>
<line x1="376" y1="178.8" x2="402" y2="178.8" stroke="#e6ae38" stroke-width="1.2"/>
<circle cx="389.2" cy="178.8" r="2.9" fill="#e6ae38"/>
<text x="408.8" y="182.9" font-size="17.5">12.28</text>
<line x1="376" y1="199.7" x2="402" y2="199.7" stroke="#e8792f" stroke-width="1.2"/>
<circle cx="389.2" cy="199.7" r="2.9" fill="#e8792f"/>
<text x="408.8" y="203.4" font-size="17.5">15.92</text>
<line x1="376" y1="220.6" x2="402" y2="220.6" stroke="#d8282b" stroke-width="1.2"/>
<circle cx="389.2" cy="220.6" r="2.9" fill="#d8282b"/>
<text x="408.8" y="224.0" font-size="17.5">19.63</text>
<line x1="376" y1="241.5" x2="402" y2="241.5" stroke="#000" stroke-width="1.3"/>
<text x="408.7" y="247.8" font-size="17.5" >1</text>
<line x1="418.4" y1="251.4" x2="422.9" y2="235.6" stroke="#000" stroke-width="1.0"/>
<text x="423.6" y="247.8" font-size="17.5" style="font-family:&quot;Liberation Serif&quot;,serif;font-style:italic">λ</text>
<text x="433.2" y="241.2" font-size="12" >2</text>
<text x="435.2" y="253.8" font-size="12.5" >L</text>
<clipPath id="cb"><rect x="543.6" y="15.8" width="399.3" height="320.4"/></clipPath>
<g clip-path="url(#cb)">
<line x1="543.6" y1="268.9" x2="942.9" y2="81.0" stroke="#1220de" stroke-width="1.5"/>
<path d="M543.6 336.2 L547.0 335.8 L550.3 335.2 L553.7 334.6 L557.0 333.9 L560.4 333.1 L563.7 332.4 L567.1 331.6 L570.4 330.7 L573.8 329.8 L577.2 328.9 L580.5 328.0 L583.9 327.1 L587.2 326.1 L590.6 325.1 L593.9 324.1 L597.3 323.1 L600.6 322.1 L604.0 321.1 L607.4 320.0 L610.7 318.9 L614.1 317.8 L617.4 316.7 L620.8 315.6 L624.1 314.5 L627.5 313.4 L630.8 312.2 L634.2 311.1 L637.6 309.9 L640.9 308.7 L644.3 307.5 L647.6 306.3 L651.0 305.1 L654.3 303.9 L657.7 302.7 L661.0 301.4 L664.4 300.2 L667.8 298.9 L671.1 297.7 L674.5 296.4 L677.8 295.1 L681.2 293.8 L684.5 292.5 L687.9 291.2 L691.2 289.9 L694.6 288.6 L698.0 287.3 L701.3 285.9 L704.7 284.6 L708.0 283.3 L711.4 281.9 L714.7 280.5 L718.1 279.2 L721.4 277.8 L724.8 276.4 L728.2 275.0 L731.5 273.6 L734.9 272.2 L738.2 270.8 L741.6 269.4 L744.9 268.0 L748.3 266.6 L751.6 265.2 L755.0 263.7 L758.3 262.3 L761.7 260.8 L765.1 259.4 L768.4 257.9 L771.8 256.5 L775.1 255.0 L778.5 253.5 L781.8 252.0 L785.2 250.6 L788.5 249.1 L791.9 247.6 L795.3 246.1 L798.6 244.6 L802.0 243.1 L805.3 241.5 L808.7 240.0 L812.0 238.5 L815.4 237.0 L818.7 235.4 L822.1 233.9 L825.5 232.4 L828.8 230.8 L832.2 229.3 L835.5 227.7 L838.9 226.1 L842.2 224.6 L845.6 223.0 L848.9 221.4 L852.3 219.9 L855.7 218.3 L859.0 216.7 L862.4 215.1 L865.7 213.5 L869.1 211.9 L872.4 210.3 L875.8 208.7 L879.1 207.1 L882.5 205.5 L885.9 203.8 L889.2 202.2 L892.6 200.6 L895.9 199.0 L899.3 197.3 L902.6 195.7 L906.0 194.0 L909.3 192.4 L912.7 190.7 L916.1 189.1 L919.4 187.4 L922.8 185.8 L926.1 184.1 L929.5 182.4 L932.8 180.8 L936.2 179.1 L939.5 177.4 L942.9 175.7" fill="none" stroke="#761787" stroke-width="1.5"/>
<g fill="#1220de"><circle cx="614.3" cy="234.4" r="2.8"/><circle cx="620.8" cy="231.8" r="2.8"/><circle cx="627.4" cy="230.5" r="2.8"/><circle cx="633.9" cy="226.9" r="2.8"/><circle cx="640.3" cy="224.0" r="2.8"/><circle cx="646.8" cy="222.6" r="2.8"/><circle cx="653.0" cy="218.5" r="2.8"/><circle cx="659.7" cy="215.2" r="2.8"/><circle cx="666.1" cy="212.5" r="2.8"/><circle cx="672.6" cy="210.3" r="2.8"/><circle cx="705.2" cy="194.7" r="2.8"/><circle cx="736.6" cy="179.1" r="2.8"/><circle cx="769.5" cy="162.5" r="2.8"/><circle cx="801.8" cy="146.8" r="2.8"/><circle cx="834.1" cy="132.6" r="2.8"/><circle cx="865.7" cy="117.2" r="2.8"/><circle cx="871.5" cy="115.7" r="2.8"/><circle cx="898.0" cy="101.7" r="2.8"/><circle cx="930.6" cy="87.5" r="2.8"/></g>
<g fill="#761787"><circle cx="614.3" cy="316.1" r="2.8"/><circle cx="620.8" cy="314.4" r="2.8"/><circle cx="627.4" cy="312.8" r="2.8"/><circle cx="633.9" cy="311.4" r="2.8"/><circle cx="640.3" cy="309.9" r="2.8"/><circle cx="646.8" cy="307.3" r="2.8"/><circle cx="653.0" cy="305.0" r="2.8"/><circle cx="659.7" cy="302.4" r="2.8"/><circle cx="666.1" cy="300.1" r="2.8"/><circle cx="672.6" cy="297.7" r="2.8"/><circle cx="705.2" cy="284.4" r="2.8"/><circle cx="736.6" cy="270.1" r="2.8"/><circle cx="768.9" cy="256.2" r="2.8"/><circle cx="801.2" cy="241.9" r="2.8"/><circle cx="833.4" cy="227.4" r="2.8"/><circle cx="865.4" cy="212.3" r="2.8"/><circle cx="870.9" cy="209.6" r="2.8"/><circle cx="898.6" cy="196.0" r="2.8"/><circle cx="930.9" cy="181.5" r="2.8"/></g>
</g>
<rect x="543.6" y="15.8" width="399.3" height="320.4" fill="none" stroke="#000" stroke-width="1.5"/>
<path d="M556.5 336.2 v-3 M556.5 15.8 v3 M569.4 336.2 v-3 M569.4 15.8 v3 M582.3 336.2 v-3 M582.3 15.8 v3 M595.2 336.2 v-3 M595.2 15.8 v3 M608.1 336.2 v-5 M608.1 15.8 v5 M621.1 336.2 v-3 M621.1 15.8 v3 M634.0 336.2 v-3 M634.0 15.8 v3 M646.9 336.2 v-3 M646.9 15.8 v3 M659.8 336.2 v-3 M659.8 15.8 v3 M672.7 336.2 v-5 M672.7 15.8 v5 M685.6 336.2 v-3 M685.6 15.8 v3 M698.5 336.2 v-3 M698.5 15.8 v3 M711.4 336.2 v-3 M711.4 15.8 v3 M724.3 336.2 v-3 M724.3 15.8 v3 M737.2 336.2 v-5 M737.2 15.8 v5 M750.2 336.2 v-3 M750.2 15.8 v3 M763.1 336.2 v-3 M763.1 15.8 v3 M776.0 336.2 v-3 M776.0 15.8 v3 M788.9 336.2 v-3 M788.9 15.8 v3 M801.8 336.2 v-5 M801.8 15.8 v5 M814.7 336.2 v-3 M814.7 15.8 v3 M827.6 336.2 v-3 M827.6 15.8 v3 M840.5 336.2 v-3 M840.5 15.8 v3 M853.4 336.2 v-3 M853.4 15.8 v3 M866.4 336.2 v-5 M866.4 15.8 v5 M879.3 336.2 v-3 M879.3 15.8 v3 M892.2 336.2 v-3 M892.2 15.8 v3 M905.1 336.2 v-3 M905.1 15.8 v3 M918.0 336.2 v-3 M918.0 15.8 v3 M930.9 336.2 v-5 M930.9 15.8 v5 M543.6 321.4 h3 M942.9 321.4 h-3 M543.6 306.6 h3 M942.9 306.6 h-3 M543.6 291.7 h3 M942.9 291.7 h-3 M543.6 276.9 h5 M942.9 276.9 h-5 M543.6 262.1 h3 M942.9 262.1 h-3 M543.6 247.3 h3 M942.9 247.3 h-3 M543.6 232.5 h3 M942.9 232.5 h-3 M543.6 217.6 h5 M942.9 217.6 h-5 M543.6 202.8 h3 M942.9 202.8 h-3 M543.6 188.0 h3 M942.9 188.0 h-3 M543.6 173.2 h3 M942.9 173.2 h-3 M543.6 158.4 h5 M942.9 158.4 h-5 M543.6 143.5 h3 M942.9 143.5 h-3 M543.6 128.7 h3 M942.9 128.7 h-3 M543.6 113.9 h3 M942.9 113.9 h-3 M543.6 99.1 h5 M942.9 99.1 h-5 M543.6 84.3 h3 M942.9 84.3 h-3 M543.6 69.4 h3 M942.9 69.4 h-3 M543.6 54.6 h3 M942.9 54.6 h-3 M543.6 39.8 h5 M942.9 39.8 h-5 M543.6 25.0 h3 M942.9 25.0 h-3" stroke="#000" stroke-width="1.2" fill="none"/>
<text x="535" y="342.1" text-anchor="end" font-size="17.5">0</text>
<text x="535" y="283.0" text-anchor="end" font-size="17.5">2</text>
<text x="535" y="223.9" text-anchor="end" font-size="17.5">4</text>
<text x="535" y="164.9" text-anchor="end" font-size="17.5">6</text>
<text x="535" y="105.8" text-anchor="end" font-size="17.5">8</text>
<text x="535" y="46.7" text-anchor="end" font-size="17.5">10</text>
<text x="543.6" y="360.3" text-anchor="middle" font-size="17.5">0.0</text>
<text x="608.1" y="360.3" text-anchor="middle" font-size="17.5">0.1</text>
<text x="672.7" y="360.3" text-anchor="middle" font-size="17.5">0.2</text>
<text x="737.2" y="360.3" text-anchor="middle" font-size="17.5">0.3</text>
<text x="801.8" y="360.3" text-anchor="middle" font-size="17.5">0.4</text>
<text x="866.4" y="360.3" text-anchor="middle" font-size="17.5">0.5</text>
<text x="930.9" y="360.3" text-anchor="middle" font-size="17.5">0.6</text>
<text x="743.2" y="384.5" text-anchor="middle" font-size="17.5">Temperature (K)</text>
<text id="ylab_b" transform="translate(514.5,178) rotate(-90)" text-anchor="middle" font-size="17.5" textLength="117" lengthAdjust="spacing">Δ<tspan font-size="19">(</tspan>1/<tspan style="font-family:&quot;Liberation Serif&quot;,serif;font-style:italic">λ</tspan><tspan font-size="12" dy="-7">2</tspan><tspan dy="7" font-size="19">)</tspan> (μm<tspan font-size="12" dy="-7">−2</tspan><tspan dy="7">)</tspan></text>
<text x="492" y="21" font-size="31" font-weight="bold">b</text>
<rect x="607.9" y="24.9" width="148.6" height="118.2" fill="#fff"/>
<path d="M607.9 28.3 L610.2 28.3 L612.4 28.3 L614.7 28.3 L617.0 28.3 L619.2 28.3 L621.5 28.4 L623.8 28.4 L626.0 28.4 L628.3 28.5 L630.6 28.6 L632.8 28.6 L635.1 28.7 L637.4 28.8 L639.6 29.0 L641.9 29.3 L644.2 29.6 L646.4 30.0 L648.7 30.4 L651.0 30.9 L653.2 31.5 L655.5 32.2 L657.8 33.0 L660.0 33.9 L662.3 34.8 L664.6 35.8 L666.8 36.8 L669.1 38.0 L671.4 39.2 L673.6 40.5 L675.9 41.9 L678.2 43.4 L680.4 44.9 L682.7 46.5 L685.0 48.0 L687.2 49.6 L689.5 51.2 L691.8 52.9 L694.0 54.5 L696.3 56.3 L698.6 58.1 L700.8 60.0 L703.1 62.0 L705.4 64.0 L707.6 66.0 L709.9 68.1 L712.2 70.2 L714.4 72.4 L716.7 74.6 L719.0 76.9 L721.2 79.4 L723.5 81.9 L725.8 84.6 L728.0 87.5 L730.3 90.5 L732.6 93.7 L734.8 97.3 L737.1 101.2 L739.4 105.4 L741.6 109.8 L742.4 111.3 L742.7 112.1 L743.1 112.8 L743.5 113.6 L743.8 114.4 L744.2 115.1 L744.6 115.9 L744.9 116.7 L745.3 117.5 L745.6 118.3 L746.0 119.1 L746.4 119.9 L746.7 120.7 L747.1 121.4 L747.5 122.2 L747.8 123.0 L748.2 123.7 L748.5 124.5 L748.9 125.2 L749.3 125.9 L749.6 126.6 L750.0 127.4 L750.3 128.1 L750.7 128.9 L751.1 129.6 L751.4 130.4 L751.8 131.2 L752.2 132.0 L752.5 132.9 L752.9 133.7 L753.2 134.6 L753.6 135.5 L754.0 136.4 L754.3 137.3 L754.7 138.2 L755.1 139.2 L755.4 140.1 L755.8 141.1 L756.1 142.1 L756.5 143.1" fill="none" stroke="#7f8c8d" stroke-width="1.4"/>
<path d="M607.9 28.3 L610.2 28.3 L612.4 28.3 L614.7 28.3 L617.0 28.3 L619.2 28.3 L621.5 28.4 L623.8 28.4 L626.0 28.4 L628.3 28.4 L630.6 28.5 L632.8 28.6 L635.1 28.6 L637.4 28.7 L639.6 28.9 L641.9 29.1 L644.2 29.5 L646.4 29.8 L648.7 30.2 L651.0 30.7 L653.2 31.3 L655.5 32.0 L657.8 32.7 L660.0 33.6 L662.3 34.4 L664.6 35.4 L666.8 36.4 L669.1 37.5 L671.4 38.8 L673.6 40.1 L675.9 41.4 L678.2 42.9 L680.4 44.4 L682.7 45.9 L685.0 47.4 L687.2 49.0 L689.5 50.6 L691.8 52.2 L694.0 53.9 L696.3 55.6 L698.6 57.4 L700.8 59.3 L703.1 61.3 L705.4 63.3 L707.6 65.3 L709.9 67.4 L712.2 69.5 L714.4 71.7 L716.7 74.0 L719.0 76.4 L721.2 78.8 L723.5 81.4 L725.8 84.1 L728.0 87.0 L730.3 90.1 L732.6 93.4 L734.8 96.9 L737.1 100.9 L739.4 105.2 L741.6 109.6 L742.4 111.1 L742.7 111.9 L743.1 112.6 L743.5 113.4 L743.8 114.2 L744.2 115.0 L744.6 115.8 L744.9 116.6 L745.3 117.4 L745.6 118.2 L746.0 119.0 L746.4 119.8 L746.7 120.5 L747.1 121.3 L747.5 122.1 L747.8 122.9 L748.2 123.6 L748.5 124.4 L748.9 125.1 L749.3 125.8 L749.6 126.6 L750.0 127.3 L750.3 128.1 L750.7 128.8 L751.1 129.6 L751.4 130.4 L751.8 131.2 L752.2 132.0 L752.5 132.8 L752.9 133.7 L753.2 134.6 L753.6 135.5 L754.0 136.4 L754.3 137.3 L754.7 138.2 L755.1 139.2 L755.4 140.1 L755.8 141.1 L756.1 142.1 L756.5 143.1" fill="none" stroke="#6fa8a0" stroke-width="1.4"/>
<path d="M607.9 28.3 L610.2 28.3 L612.4 28.3 L614.7 28.3 L617.0 28.3 L619.2 28.3 L621.5 28.3 L623.8 28.4 L626.0 28.4 L628.3 28.4 L630.6 28.4 L632.8 28.5 L635.1 28.5 L637.4 28.6 L639.6 28.7 L641.9 29.0 L644.2 29.3 L646.4 29.6 L648.7 30.0 L651.0 30.5 L653.2 31.0 L655.5 31.7 L657.8 32.4 L660.0 33.2 L662.3 34.1 L664.6 35.0 L666.8 36.0 L669.1 37.1 L671.4 38.3 L673.6 39.6 L675.9 40.9 L678.2 42.3 L680.4 43.8 L682.7 45.3 L685.0 46.8 L687.2 48.4 L689.5 49.9 L691.8 51.5 L694.0 53.2 L696.3 54.9 L698.6 56.7 L700.8 58.6 L703.1 60.6 L705.4 62.6 L707.6 64.6 L709.9 66.7 L712.2 68.9 L714.4 71.1 L716.7 73.4 L719.0 75.8 L721.2 78.3 L723.5 80.9 L725.8 83.6 L728.0 86.6 L730.3 89.7 L732.6 93.0 L734.8 96.6 L737.1 100.6 L739.4 104.9 L741.6 109.4 L742.4 110.9 L742.7 111.7 L743.1 112.5 L743.5 113.2 L743.8 114.0 L744.2 114.8 L744.6 115.6 L744.9 116.4 L745.3 117.2 L745.6 118.0 L746.0 118.8 L746.4 119.6 L746.7 120.4 L747.1 121.2 L747.5 122.0 L747.8 122.8 L748.2 123.5 L748.5 124.3 L748.9 125.0 L749.3 125.8 L749.6 126.5 L750.0 127.2 L750.3 128.0 L750.7 128.8 L751.1 129.5 L751.4 130.3 L751.8 131.1 L752.2 132.0 L752.5 132.8 L752.9 133.7 L753.2 134.6 L753.6 135.4 L754.0 136.4 L754.3 137.3 L754.7 138.2 L755.1 139.2 L755.4 140.1 L755.8 141.1 L756.1 142.1 L756.5 143.1" fill="none" stroke="#c9b640" stroke-width="1.4"/>
<path d="M607.9 28.3 L610.2 28.3 L612.4 28.3 L614.7 28.3 L617.0 28.3 L619.2 28.3 L621.5 28.3 L623.8 28.3 L626.0 28.3 L628.3 28.4 L630.6 28.4 L632.8 28.4 L635.1 28.5 L637.4 28.5 L639.6 28.6 L641.9 28.9 L644.2 29.2 L646.4 29.5 L648.7 29.8 L651.0 30.3 L653.2 30.8 L655.5 31.4 L657.8 32.1 L660.0 32.9 L662.3 33.7 L664.6 34.6 L666.8 35.6 L669.1 36.7 L671.4 37.8 L673.6 39.1 L675.9 40.4 L678.2 41.8 L680.4 43.2 L682.7 44.7 L685.0 46.2 L687.2 47.7 L689.5 49.3 L691.8 50.9 L694.0 52.5 L696.3 54.2 L698.6 56.0 L700.8 57.9 L703.1 59.9 L705.4 61.9 L707.6 64.0 L709.9 66.1 L712.2 68.2 L714.4 70.5 L716.7 72.8 L719.0 75.2 L721.2 77.7 L723.5 80.4 L725.8 83.2 L728.0 86.1 L730.3 89.3 L732.6 92.6 L734.8 96.3 L737.1 100.3 L739.4 104.7 L741.6 109.2 L742.4 110.7 L742.7 111.5 L743.1 112.3 L743.5 113.1 L743.8 113.9 L744.2 114.7 L744.6 115.5 L744.9 116.3 L745.3 117.1 L745.6 117.9 L746.0 118.7 L746.4 119.5 L746.7 120.3 L747.1 121.1 L747.5 121.9 L747.8 122.7 L748.2 123.4 L748.5 124.2 L748.9 124.9 L749.3 125.7 L749.6 126.4 L750.0 127.2 L750.3 127.9 L750.7 128.7 L751.1 129.5 L751.4 130.3 L751.8 131.1 L752.2 131.9 L752.5 132.8 L752.9 133.6 L753.2 134.5 L753.6 135.4 L754.0 136.3 L754.3 137.3 L754.7 138.2 L755.1 139.2 L755.4 140.1 L755.8 141.1 L756.1 142.1 L756.5 143.1" fill="none" stroke="#e8892f" stroke-width="1.4"/>
<path d="M607.9 28.3 L610.2 28.3 L612.4 28.3 L614.7 28.3 L617.0 28.3 L619.2 28.3 L621.5 28.3 L623.8 28.3 L626.0 28.3 L628.3 28.3 L630.6 28.3 L632.8 28.4 L635.1 28.4 L637.4 28.4 L639.6 28.5 L641.9 28.7 L644.2 29.0 L646.4 29.3 L648.7 29.6 L651.0 30.1 L653.2 30.5 L655.5 31.1 L657.8 31.8 L660.0 32.6 L662.3 33.4 L664.6 34.3 L666.8 35.2 L669.1 36.2 L671.4 37.4 L673.6 38.6 L675.9 39.9 L678.2 41.2 L680.4 42.7 L682.7 44.1 L685.0 45.6 L687.2 47.1 L689.5 48.6 L691.8 50.2 L694.0 51.9 L696.3 53.5 L698.6 55.3 L700.8 57.2 L703.1 59.2 L705.4 61.2 L707.6 63.3 L709.9 65.4 L712.2 67.6 L714.4 69.8 L716.7 72.2 L719.0 74.6 L721.2 77.2 L723.5 79.8 L725.8 82.7 L728.0 85.7 L730.3 88.8 L732.6 92.3 L734.8 95.9 L737.1 100.0 L739.4 104.4 L741.6 109.0 L742.4 110.6 L742.7 111.3 L743.1 112.1 L743.5 112.9 L743.8 113.7 L744.2 114.5 L744.6 115.3 L744.9 116.1 L745.3 117.0 L745.6 117.8 L746.0 118.6 L746.4 119.4 L746.7 120.2 L747.1 121.0 L747.5 121.8 L747.8 122.6 L748.2 123.4 L748.5 124.1 L748.9 124.9 L749.3 125.6 L749.6 126.4 L750.0 127.1 L750.3 127.9 L750.7 128.6 L751.1 129.4 L751.4 130.2 L751.8 131.0 L752.2 131.9 L752.5 132.7 L752.9 133.6 L753.2 134.5 L753.6 135.4 L754.0 136.3 L754.3 137.3 L754.7 138.2 L755.1 139.2 L755.4 140.1 L755.8 141.1 L756.1 142.1 L756.5 143.1" fill="none" stroke="#d8282b" stroke-width="1.4"/>
<rect x="607.9" y="24.9" width="148.6" height="118.2" fill="none" stroke="#000" stroke-width="1.5"/>
<path d="M615.3 143.1 v-2 M615.3 24.9 v2 M622.8 143.1 v-2 M622.8 24.9 v2 M630.2 143.1 v-2 M630.2 24.9 v2 M637.6 143.1 v-4 M637.6 24.9 v4 M645.0 143.1 v-2 M645.0 24.9 v2 M652.5 143.1 v-2 M652.5 24.9 v2 M659.9 143.1 v-2 M659.9 24.9 v2 M667.3 143.1 v-4 M667.3 24.9 v4 M674.8 143.1 v-2 M674.8 24.9 v2 M682.2 143.1 v-2 M682.2 24.9 v2 M689.6 143.1 v-2 M689.6 24.9 v2 M697.1 143.1 v-4 M697.1 24.9 v4 M704.5 143.1 v-2 M704.5 24.9 v2 M711.9 143.1 v-2 M711.9 24.9 v2 M719.4 143.1 v-2 M719.4 24.9 v2 M726.8 143.1 v-4 M726.8 24.9 v4 M734.2 143.1 v-2 M734.2 24.9 v2 M741.6 143.1 v-2 M741.6 24.9 v2 M749.1 143.1 v-2 M749.1 24.9 v2 M607.9 137.4 h2 M756.5 137.4 h-2 M607.9 131.6 h2 M756.5 131.6 h-2 M607.9 125.9 h2 M756.5 125.9 h-2 M607.9 120.1 h4 M756.5 120.1 h-4 M607.9 114.4 h2 M756.5 114.4 h-2 M607.9 108.7 h2 M756.5 108.7 h-2 M607.9 102.9 h2 M756.5 102.9 h-2 M607.9 97.2 h4 M756.5 97.2 h-4 M607.9 91.4 h2 M756.5 91.4 h-2 M607.9 85.7 h2 M756.5 85.7 h-2 M607.9 80.0 h2 M756.5 80.0 h-2 M607.9 74.2 h4 M756.5 74.2 h-4 M607.9 68.5 h2 M756.5 68.5 h-2 M607.9 62.7 h2 M756.5 62.7 h-2 M607.9 57.0 h2 M756.5 57.0 h-2 M607.9 51.3 h4 M756.5 51.3 h-4 M607.9 45.5 h2 M756.5 45.5 h-2 M607.9 39.8 h2 M756.5 39.8 h-2 M607.9 34.0 h2 M756.5 34.0 h-2 M607.9 28.3 h4 M756.5 28.3 h-4" stroke="#000" stroke-width="1.1" fill="none"/>
<text x="603.8" y="149.0" text-anchor="end" font-size="17.5">0.0</text>
<text x="607.9" y="160.9" text-anchor="middle" font-size="17.5">0.0</text>
<text x="603.8" y="126.0" text-anchor="end" font-size="17.5">0.2</text>
<text x="637.6" y="160.9" text-anchor="middle" font-size="17.5">0.2</text>
<text x="603.8" y="103.1" text-anchor="end" font-size="17.5">0.4</text>
<text x="667.3" y="160.9" text-anchor="middle" font-size="17.5">0.4</text>
<text x="603.8" y="80.1" text-anchor="end" font-size="17.5">0.6</text>
<text x="697.1" y="160.9" text-anchor="middle" font-size="17.5">0.6</text>
<text x="603.8" y="57.2" text-anchor="end" font-size="17.5">0.8</text>
<text x="726.8" y="160.9" text-anchor="middle" font-size="17.5">0.8</text>
<text x="603.8" y="34.2" text-anchor="end" font-size="17.5">1.0</text>
<text x="756.5" y="160.9" text-anchor="middle" font-size="17.5">1.0</text>
<text x="666" y="185" font-size="17.5"><tspan font-style="italic">T</tspan>/<tspan font-style="italic">T</tspan><tspan font-size="12" dy="4">c</tspan></text>
<text id="ylab_i" transform="translate(568.5,82.2) rotate(-90)" text-anchor="middle" font-size="17.5" textLength="96" lengthAdjust="spacing"><tspan style="font-family:&quot;Liberation Serif&quot;,serif;font-style:italic">δ</tspan><tspan font-size="12" dy="-7">2</tspan><tspan dy="7"> (0)/</tspan><tspan style="font-family:&quot;Liberation Serif&quot;,serif;font-style:italic">δ</tspan><tspan font-size="12" dy="-7">2</tspan><tspan dy="7"> (</tspan><tspan font-style="italic">T</tspan>)</text>
<text x="639.8" y="102.4" font-size="17.5" textLength="56.5" lengthAdjust="spacingAndGlyphs"><tspan font-style="italic">s</tspan>–wave</text>
<circle cx="767.4" cy="280.6" r="3.2" fill="#1220de"/>
<circle cx="767.4" cy="310.2" r="3.2" fill="#761787"/>
<text x="777.6" y="285.7" font-size="17.5" >1</text>
<line x1="788.0" y1="290.4" x2="795.5" y2="269.2" stroke="#000" stroke-width="1.0"/>
<text x="794.6" y="285.7" font-size="17.5" style="font-family:&quot;Liberation Serif&quot;,serif;font-style:italic">λ</text>
<text x="804.4" y="279.8" font-size="12" >2</text>
<text x="804.0" y="289.6" font-size="13" >p</text>
<text x="777.8" y="314.9" font-size="17.5" >Δ</text>
<text x="791.0" y="316.4" font-size="21" >(</text>
<text x="796.1" y="314.9" font-size="17.5" >1</text>
<line x1="806.2" y1="319.5" x2="813.7" y2="298.4" stroke="#000" stroke-width="1.0"/>
<text x="813.7" y="314.9" font-size="17.5" style="font-family:&quot;Liberation Serif&quot;,serif;font-style:italic">λ</text>
<text x="823.0" y="309.8" font-size="12" >2</text>
<text x="822.9" y="320.4" font-size="12.5" >L</text>
<text x="829.2" y="316.4" font-size="21" >)</text>
<line x1="847.9" y1="280.4" x2="873.3" y2="280.4" stroke="#1220de" stroke-width="1.5"/>
<line x1="847.9" y1="310.7" x2="873.3" y2="310.7" stroke="#761787" stroke-width="1.5"/>
<text x="879.2" y="286.2" font-size="17.5"><tspan font-style="italic">a</tspan> + <tspan font-style="italic">bT</tspan></text>
<text x="879.2" y="316.4" font-size="17.5"><tspan font-style="italic">a T</tspan><tspan font-size="13" dy="-7.5">1.25</tspan></text>
</svg>
</body></html>
